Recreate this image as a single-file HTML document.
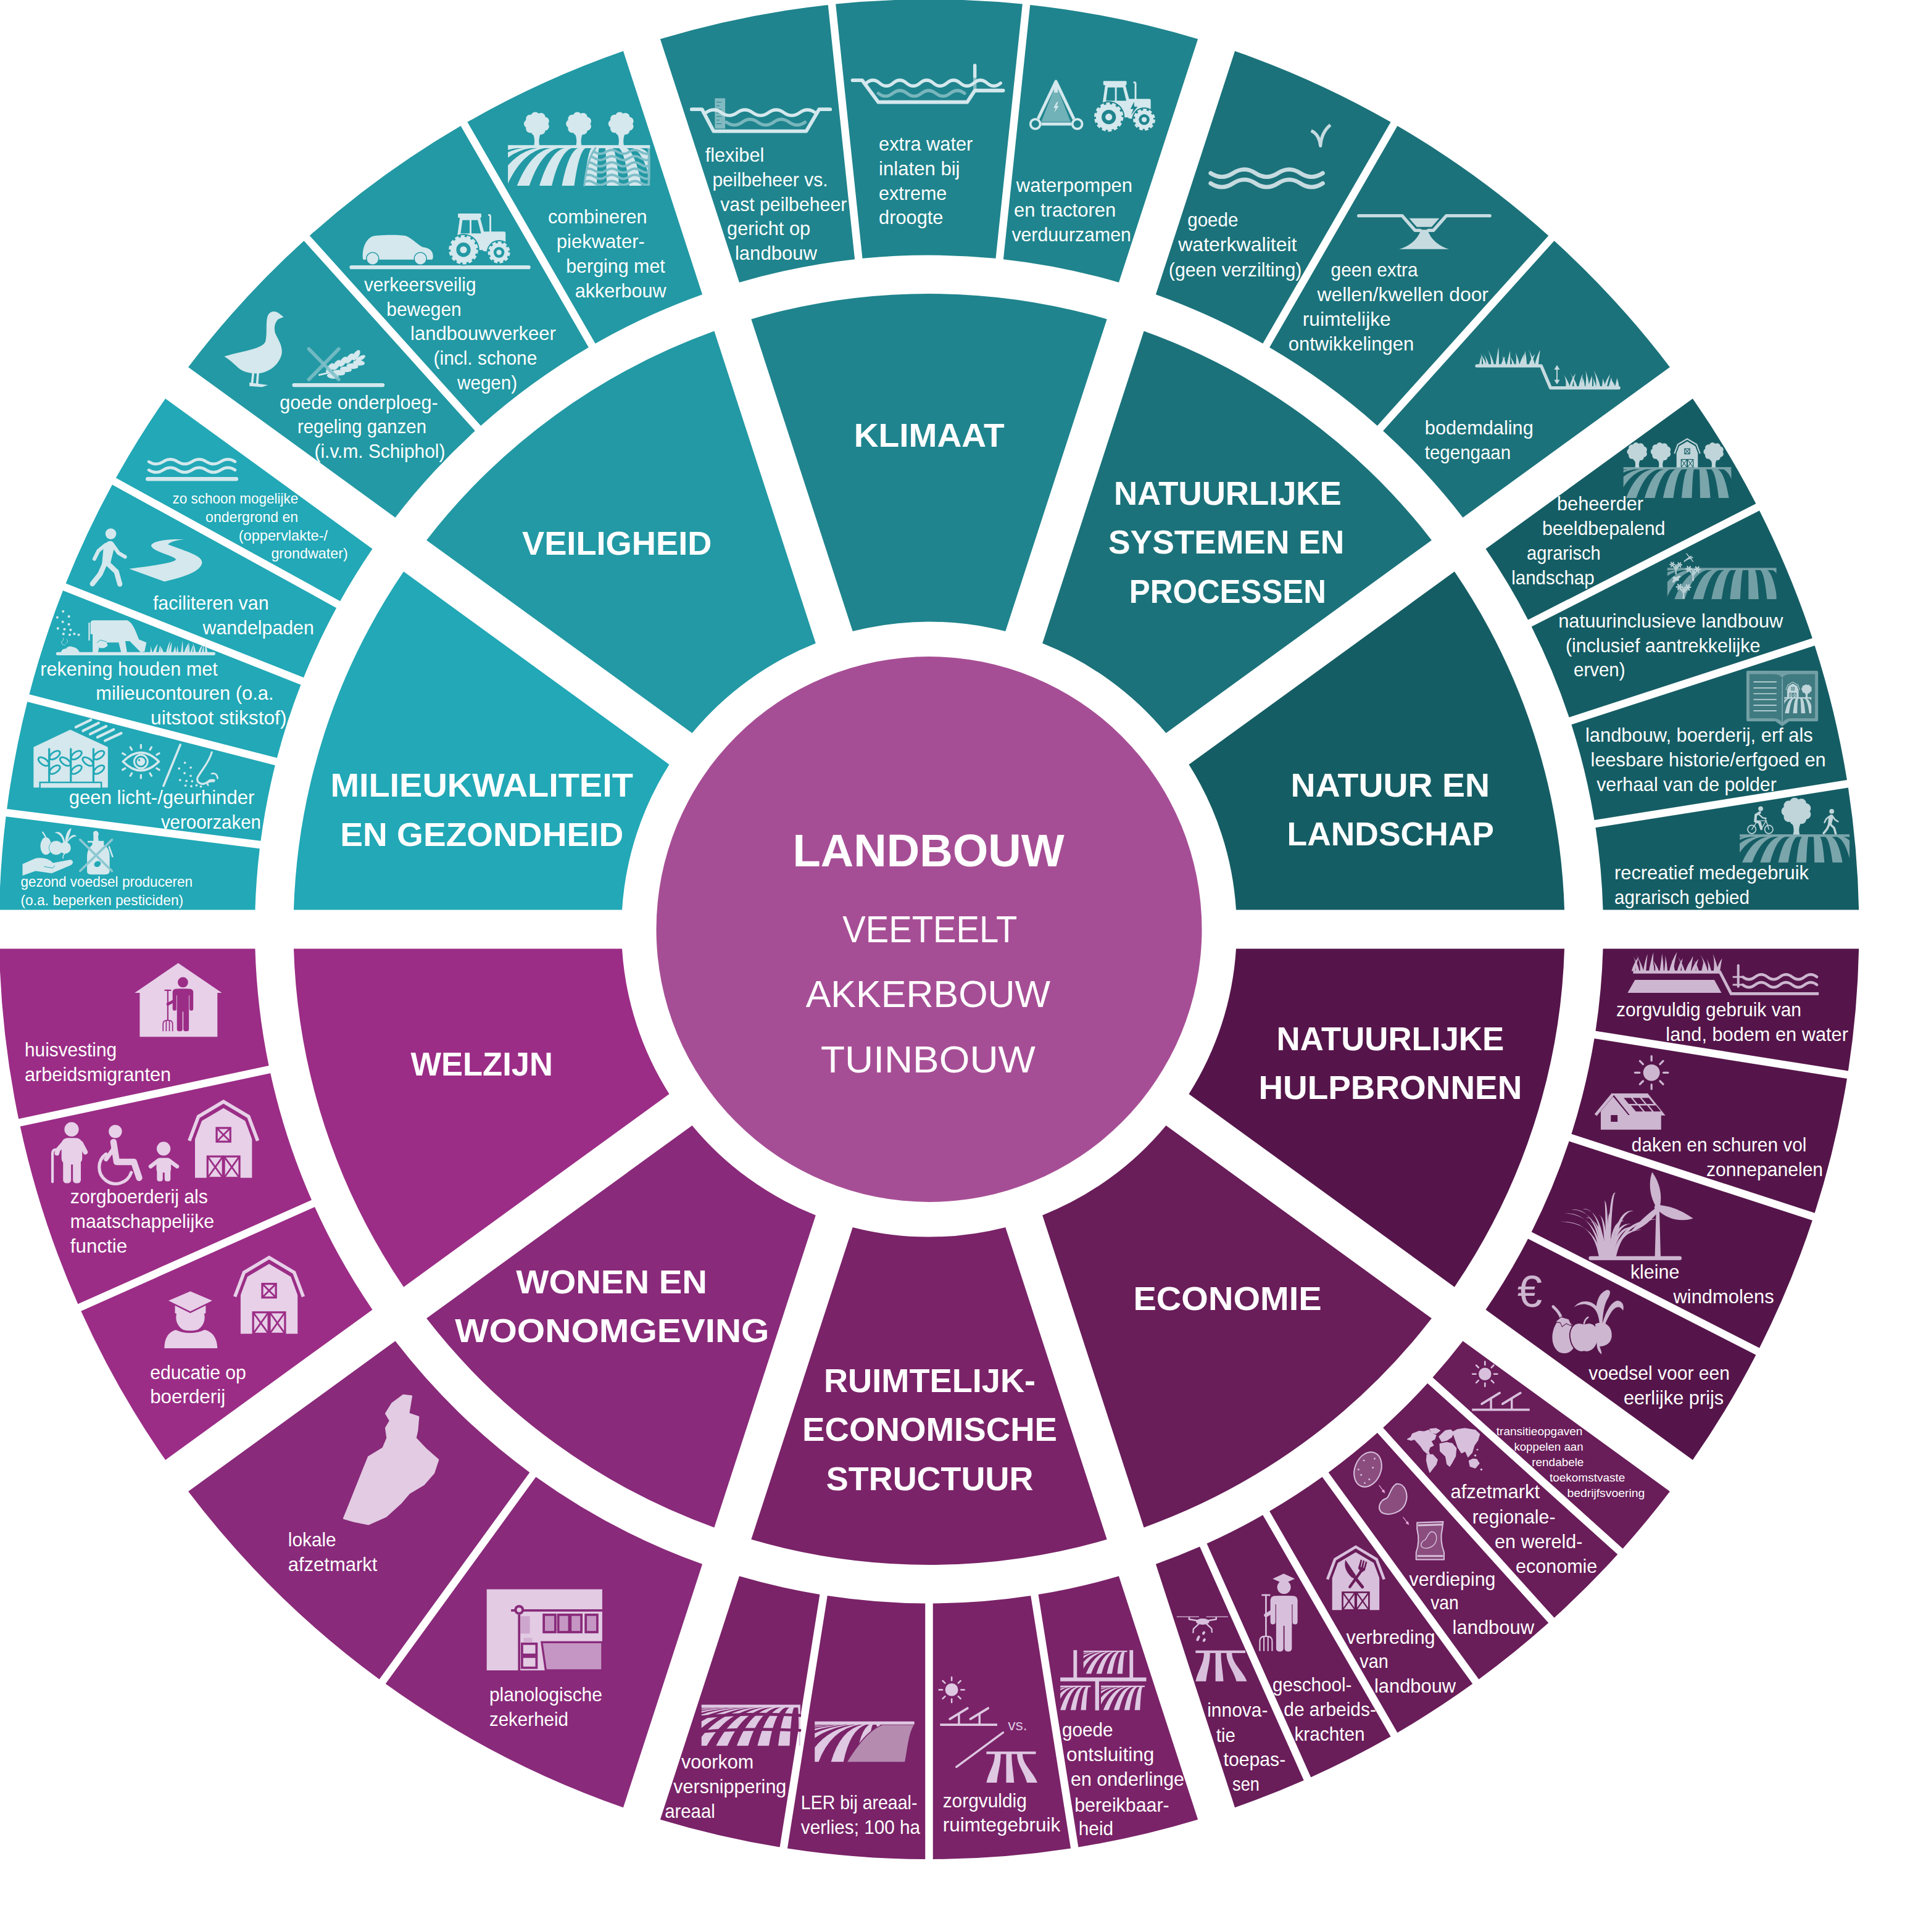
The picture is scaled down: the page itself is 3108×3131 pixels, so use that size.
<!DOCTYPE html>
<html><head><meta charset="utf-8"><style>
html,body{margin:0;padding:0;background:#fff;}
svg{display:block}
text{font-family:"Liberation Sans",sans-serif;fill:#fff}
.b{font-weight:bold}
</style></head><body>
<svg width="3108" height="3131" viewBox="0 0 3108 3131">
<rect width="3108" height="3131" fill="#fff"/>
<path d="M475.98 1474.50A1030 1030 0 0 1 654.09 926.35L1084.50 1239.06A498.5 498.5 0 0 0 1008.00 1474.50Z" fill="#22a8b6"/>
<path d="M-1.17 1474.50A1507 1507 0 0 1 9.61 1323.33L420.85 1375.28A1092.5 1092.5 0 0 0 413.45 1474.50Z" fill="#22a8b6"/>
<path d="M11.18 1310.92A1507 1507 0 0 1 44.30 1137.28L445.79 1240.36A1092.5 1092.5 0 0 0 422.42 1362.87Z" fill="#22a8b6"/>
<path d="M47.41 1125.17A1507 1507 0 0 1 102.04 957.05L487.44 1109.64A1092.5 1092.5 0 0 0 448.89 1228.26Z" fill="#22a8b6"/>
<path d="M106.64 945.43A1507 1507 0 0 1 181.91 785.48L545.14 985.17A1092.5 1092.5 0 0 0 492.04 1098.02Z" fill="#22a8b6"/>
<path d="M187.93 774.53A1507 1507 0 0 1 268.06 645.89L603.50 889.60A1092.5 1092.5 0 0 0 551.16 974.22Z" fill="#22a8b6"/>
<path d="M691.12 875.38A1030 1030 0 0 1 1157.40 536.60L1321.80 1042.58A498.5 498.5 0 0 0 1121.53 1188.09Z" fill="#2299a4"/>
<path d="M305.09 594.92A1507 1507 0 0 1 492.48 390.27L769.84 698.31A1092.5 1092.5 0 0 0 640.53 838.63Z" fill="#2299a4"/>
<path d="M501.77 381.91A1507 1507 0 0 1 746.59 204.04L953.85 563.01A1092.5 1092.5 0 0 0 779.13 689.95Z" fill="#2299a4"/>
<path d="M757.42 197.79A1507 1507 0 0 1 1009.95 82.81L1138.08 477.14A1092.5 1092.5 0 0 0 964.67 556.76Z" fill="#2299a4"/>
<path d="M1217.32 517.14A1030 1030 0 0 1 1793.68 517.14L1629.28 1023.11A498.5 498.5 0 0 0 1381.72 1023.11Z" fill="#1f848d"/>
<path d="M1069.87 63.34A1507 1507 0 0 1 1341.76 7.92L1385.09 420.16A1092.5 1092.5 0 0 0 1198.00 457.67Z" fill="#1f848d"/>
<path d="M1354.19 6.62A1507 1507 0 0 1 1656.81 6.62L1613.48 418.85A1092.5 1092.5 0 0 0 1397.52 418.85Z" fill="#1f848d"/>
<path d="M1669.24 7.92A1507 1507 0 0 1 1941.13 63.34L1813.00 457.67A1092.5 1092.5 0 0 0 1625.91 420.16Z" fill="#1f848d"/>
<path d="M1853.60 536.60A1030 1030 0 0 1 2319.88 875.38L1889.47 1188.09A498.5 498.5 0 0 0 1689.20 1042.58Z" fill="#1b727a"/>
<path d="M2001.05 82.81A1507 1507 0 0 1 2253.58 197.79L2046.33 556.76A1092.5 1092.5 0 0 0 1872.92 477.14Z" fill="#1b727a"/>
<path d="M2264.41 204.04A1507 1507 0 0 1 2509.23 381.91L2231.87 689.95A1092.5 1092.5 0 0 0 2057.15 563.01Z" fill="#1b727a"/>
<path d="M2518.52 390.27A1507 1507 0 0 1 2705.91 594.92L2370.47 838.63A1092.5 1092.5 0 0 0 2241.16 698.31Z" fill="#1b727a"/>
<path d="M2356.91 926.35A1030 1030 0 0 1 2535.02 1474.50L2003.00 1474.50A498.5 498.5 0 0 0 1926.50 1239.06Z" fill="#155d64"/>
<path d="M2742.94 645.89A1507 1507 0 0 1 2845.40 816.27L2476.07 1004.45A1092.5 1092.5 0 0 0 2407.50 889.60Z" fill="#155d64"/>
<path d="M2851.07 827.41A1507 1507 0 0 1 2936.80 1034.37L2542.58 1162.46A1092.5 1092.5 0 0 0 2481.75 1015.59Z" fill="#155d64"/>
<path d="M2940.66 1046.26A1507 1507 0 0 1 2992.96 1264.08L2583.55 1328.93A1092.5 1092.5 0 0 0 2546.44 1174.35Z" fill="#155d64"/>
<path d="M2994.91 1276.43A1507 1507 0 0 1 3012.17 1474.50L2597.55 1474.50A1092.5 1092.5 0 0 0 2585.51 1341.27Z" fill="#155d64"/>
<path d="M654.09 2085.65A1030 1030 0 0 1 475.98 1537.50L1008.00 1537.50A498.5 498.5 0 0 0 1084.50 1772.94Z" fill="#9b2d86"/>
<path d="M30.14 1813.21A1507 1507 0 0 1 -1.17 1537.50L413.45 1537.50A1092.5 1092.5 0 0 0 435.59 1727.03Z" fill="#9b2d86"/>
<path d="M126.26 2113.24A1507 1507 0 0 1 32.74 1825.43L438.19 1739.25A1092.5 1092.5 0 0 0 504.93 1944.64Z" fill="#9b2d86"/>
<path d="M268.06 2366.11A1507 1507 0 0 1 131.34 2124.66L510.01 1956.06A1092.5 1092.5 0 0 0 603.50 2122.40Z" fill="#9b2d86"/>
<path d="M1157.40 2475.40A1030 1030 0 0 1 691.12 2136.62L1121.53 1823.91A498.5 498.5 0 0 0 1321.80 1969.42Z" fill="#892a7a"/>
<path d="M614.66 2721.50A1507 1507 0 0 1 305.09 2417.08L640.53 2173.37A1092.5 1092.5 0 0 0 858.30 2386.16Z" fill="#892a7a"/>
<path d="M1009.95 2929.19A1507 1507 0 0 1 624.77 2728.85L868.41 2393.51A1092.5 1092.5 0 0 0 1138.08 2534.86Z" fill="#892a7a"/>
<path d="M1793.68 2494.86A1030 1030 0 0 1 1217.32 2494.86L1381.72 1988.89A498.5 498.5 0 0 0 1629.28 1988.89Z" fill="#7a2368"/>
<path d="M1263.58 2993.46A1507 1507 0 0 1 1069.87 2948.66L1198.00 2554.33A1092.5 1092.5 0 0 0 1328.43 2584.05Z" fill="#7a2368"/>
<path d="M1499.25 3012.99A1507 1507 0 0 1 1275.93 2995.41L1340.77 2586.01A1092.5 1092.5 0 0 0 1499.25 2598.48Z" fill="#7a2368"/>
<path d="M1735.07 2995.41A1507 1507 0 0 1 1511.75 3012.99L1511.75 2598.48A1092.5 1092.5 0 0 0 1670.23 2586.01Z" fill="#7a2368"/>
<path d="M1941.13 2948.66A1507 1507 0 0 1 1747.42 2993.46L1682.57 2584.05A1092.5 1092.5 0 0 0 1813.00 2554.33Z" fill="#7a2368"/>
<path d="M2319.88 2136.62A1030 1030 0 0 1 1853.60 2475.40L1689.20 1969.42A498.5 498.5 0 0 0 1889.47 1823.91Z" fill="#691d59"/>
<path d="M2112.74 2885.24A1507 1507 0 0 1 2001.05 2929.19L1872.92 2534.86A1092.5 1092.5 0 0 0 1944.14 2506.57Z" fill="#691d59"/>
<path d="M2253.58 2814.21A1507 1507 0 0 1 2124.16 2880.16L1955.56 2501.49A1092.5 1092.5 0 0 0 2046.33 2455.24Z" fill="#691d59"/>
<path d="M2386.23 2728.85A1507 1507 0 0 1 2264.41 2807.96L2057.15 2448.99A1092.5 1092.5 0 0 0 2142.59 2393.51Z" fill="#691d59"/>
<path d="M2509.23 2630.09A1507 1507 0 0 1 2396.34 2721.50L2152.70 2386.16A1092.5 1092.5 0 0 0 2231.87 2322.05Z" fill="#691d59"/>
<path d="M2621.23 2519.02A1507 1507 0 0 1 2518.52 2621.73L2241.16 2313.69A1092.5 1092.5 0 0 0 2313.19 2241.66Z" fill="#691d59"/>
<path d="M2705.91 2417.08A1507 1507 0 0 1 2629.59 2509.73L2321.55 2232.37A1092.5 1092.5 0 0 0 2370.47 2173.37Z" fill="#691d59"/>
<path d="M2535.02 1537.50A1030 1030 0 0 1 2356.91 2085.65L1926.50 1772.94A498.5 498.5 0 0 0 2003.00 1537.50Z" fill="#55154a"/>
<path d="M2845.40 2195.73A1507 1507 0 0 1 2742.94 2366.11L2407.50 2122.40A1092.5 1092.5 0 0 0 2476.07 2007.55Z" fill="#55154a"/>
<path d="M2936.80 1977.63A1507 1507 0 0 1 2851.07 2184.59L2481.75 1996.41A1092.5 1092.5 0 0 0 2542.58 1849.54Z" fill="#55154a"/>
<path d="M2992.96 1747.92A1507 1507 0 0 1 2940.66 1965.74L2546.44 1837.65A1092.5 1092.5 0 0 0 2583.55 1683.07Z" fill="#55154a"/>
<path d="M3012.17 1537.50A1507 1507 0 0 1 2994.91 1735.57L2585.51 1670.73A1092.5 1092.5 0 0 0 2597.55 1537.50Z" fill="#55154a"/>
<circle cx="1505.5" cy="1506" r="442" fill="#a64e95"/>
<g transform="translate(20,1130) scale(0.18769)"><line x1="548" y1="258" x2="678" y2="195" stroke="#d4e8ed" stroke-width="23" stroke-linecap="round" opacity="1"/><line x1="610" y1="290" x2="745" y2="222" stroke="#d4e8ed" stroke-width="23" stroke-linecap="round" opacity="1"/><line x1="672" y1="318" x2="810" y2="250" stroke="#d4e8ed" stroke-width="23" stroke-linecap="round" opacity="1"/><line x1="735" y1="345" x2="875" y2="278" stroke="#d4e8ed" stroke-width="23" stroke-linecap="round" opacity="1"/><line x1="800" y1="375" x2="940" y2="310" stroke="#d4e8ed" stroke-width="23" stroke-linecap="round" opacity="1"/><polygon points="183,780 183,430 500,280 825,430 825,780" fill="#d4e8ed" opacity="1"/><rect x="238" y="735" width="530" height="60" fill="#d4e8ed" stroke="#22a8b6" stroke-width="13"/><rect x="170" y="781" width="670" height="40" fill="#22a8b6" opacity="1" rx="0"/><line x1="318" y1="440" x2="318" y2="730" stroke="#22a8b6" stroke-width="17" stroke-linecap="butt" opacity="1"/><ellipse cx="270" cy="555" rx="52" ry="27" fill="none" stroke="#22a8b6" stroke-width="15" transform="rotate(35 270 555)"/><ellipse cx="366" cy="500" rx="52" ry="27" fill="none" stroke="#22a8b6" stroke-width="15" transform="rotate(-35 366 500)"/><ellipse cx="366" cy="625" rx="52" ry="27" fill="none" stroke="#22a8b6" stroke-width="15" transform="rotate(-35 366 625)"/><line x1="505" y1="440" x2="505" y2="730" stroke="#22a8b6" stroke-width="17" stroke-linecap="butt" opacity="1"/><ellipse cx="457" cy="555" rx="52" ry="27" fill="none" stroke="#22a8b6" stroke-width="15" transform="rotate(35 457 555)"/><ellipse cx="553" cy="500" rx="52" ry="27" fill="none" stroke="#22a8b6" stroke-width="15" transform="rotate(-35 553 500)"/><ellipse cx="553" cy="625" rx="52" ry="27" fill="none" stroke="#22a8b6" stroke-width="15" transform="rotate(-35 553 625)"/><line x1="700" y1="440" x2="700" y2="730" stroke="#22a8b6" stroke-width="17" stroke-linecap="butt" opacity="1"/><ellipse cx="652" cy="555" rx="52" ry="27" fill="none" stroke="#22a8b6" stroke-width="15" transform="rotate(35 652 555)"/><ellipse cx="748" cy="500" rx="52" ry="27" fill="none" stroke="#22a8b6" stroke-width="15" transform="rotate(-35 748 500)"/><ellipse cx="748" cy="625" rx="52" ry="27" fill="none" stroke="#22a8b6" stroke-width="15" transform="rotate(-35 748 625)"/><path d="M955 555 Q1110 400 1265 555 Q1110 710 955 555 Z" fill="none" stroke="#d4e8ed" stroke-width="19" stroke-linecap="round" stroke-linejoin="round" /><circle cx="1110" cy="555" r="58" fill="none" stroke="#d4e8ed" stroke-width="16"/><circle cx="1110" cy="555" r="36" fill="#d4e8ed" opacity="1"/><circle cx="1095" cy="542" r="9" fill="#22a8b6" opacity="1"/><line x1="980.096" y1="610" x2="945.455" y2="630" stroke="#d4e8ed" stroke-width="17" stroke-linecap="butt" opacity="1"/><line x1="980.096" y1="500" x2="945.455" y2="480" stroke="#d4e8ed" stroke-width="17" stroke-linecap="butt" opacity="1"/><line x1="1035" y1="650.263" x2="1015" y2="684.904" stroke="#d4e8ed" stroke-width="17" stroke-linecap="butt" opacity="1"/><line x1="1035" y1="459.737" x2="1015" y2="425.096" stroke="#d4e8ed" stroke-width="17" stroke-linecap="butt" opacity="1"/><line x1="1110" y1="665" x2="1110" y2="705" stroke="#d4e8ed" stroke-width="17" stroke-linecap="butt" opacity="1"/><line x1="1110" y1="445" x2="1110" y2="405" stroke="#d4e8ed" stroke-width="17" stroke-linecap="butt" opacity="1"/><line x1="1185" y1="650.263" x2="1205" y2="684.904" stroke="#d4e8ed" stroke-width="17" stroke-linecap="butt" opacity="1"/><line x1="1185" y1="459.737" x2="1205" y2="425.096" stroke="#d4e8ed" stroke-width="17" stroke-linecap="butt" opacity="1"/><line x1="1239.9" y1="610" x2="1274.54" y2="630" stroke="#d4e8ed" stroke-width="17" stroke-linecap="butt" opacity="1"/><line x1="1239.9" y1="500" x2="1274.54" y2="480" stroke="#d4e8ed" stroke-width="17" stroke-linecap="butt" opacity="1"/><line x1="1450" y1="410" x2="1305" y2="765" stroke="#d4e8ed" stroke-width="19" stroke-linecap="round" opacity="1"/><path d="M1722 475 C1700 560 1640 620 1600 690 C1585 730 1620 755 1660 745 C1690 735 1700 720 1740 725" fill="none" stroke="#d4e8ed" stroke-width="17" stroke-linecap="round" stroke-linejoin="round" /><path d="M1690 760 C1670 730 1700 705 1745 715" fill="none" stroke="#d4e8ed" stroke-width="14" stroke-linecap="round" stroke-linejoin="round" /><path d="M1720 660 C1750 650 1770 670 1772 700" fill="none" stroke="#d4e8ed" stroke-width="14" stroke-linecap="round" stroke-linejoin="round" /><circle cx="1490" cy="565" r="10" fill="#d4e8ed" opacity="1"/><circle cx="1540" cy="607" r="10" fill="#d4e8ed" opacity="1"/><circle cx="1440" cy="615" r="10" fill="#d4e8ed" opacity="1"/><circle cx="1487" cy="655" r="10" fill="#d4e8ed" opacity="1"/><circle cx="1540" cy="678" r="10" fill="#d4e8ed" opacity="1"/><circle cx="1448" cy="715" r="10" fill="#d4e8ed" opacity="1"/><circle cx="1503" cy="722" r="10" fill="#d4e8ed" opacity="1"/><circle cx="1552" cy="725" r="10" fill="#d4e8ed" opacity="1"/><circle cx="1495" cy="762" r="10" fill="#d4e8ed" opacity="1"/><circle cx="1545" cy="768" r="10" fill="#d4e8ed" opacity="1"/><circle cx="1590" cy="760" r="10" fill="#d4e8ed" opacity="1"/><circle cx="1628" cy="770" r="10" fill="#d4e8ed" opacity="1"/><path d="M88 1440 L200 1390 C260 1380 320 1395 350 1430 L500 1402 C530 1405 530 1440 500 1452 L340 1520 L200 1500 L88 1540 Z" fill="#d4e8ed" /><path d="M275 1462 L350 1475 L365 1455" fill="none" stroke="#22a8b6" stroke-width="5" stroke-linecap="round" stroke-linejoin="round" /><ellipse cx="290" cy="1285" rx="48" ry="75" fill="#d4e8ed"/><path d="M262 1165 C275 1185 285 1200 290 1215" fill="none" stroke="#d4e8ed" stroke-width="12" stroke-linecap="round" stroke-linejoin="round" /><circle cx="378" cy="1300" r="62" fill="#d4e8ed" opacity="1"/><circle cx="378" cy="1300" r="62" fill="none" stroke="#22a8b6" stroke-width="4"/><circle cx="455" cy="1300" r="50" fill="#d4e8ed" opacity="1"/><path d="M455 1345 C440 1365 430 1375 440 1390" fill="none" stroke="#d4e8ed" stroke-width="8" stroke-linecap="round" stroke-linejoin="round" /><path d="M440 1255 C430 1200 400 1175 365 1170 C400 1150 440 1170 455 1250 C460 1180 480 1140 510 1130 C500 1170 490 1200 470 1255 C490 1200 530 1170 555 1200 C520 1200 490 1230 470 1260 Z" fill="#d4e8ed" /><path d="M700 1185 C690 1160 720 1145 735 1160 C750 1170 745 1190 740 1200 L745 1240 L790 1240 L790 1275 C830 1300 840 1330 840 1380 L840 1500 C840 1525 820 1530 800 1530 L680 1530 C655 1530 645 1520 645 1500 L645 1380 C645 1330 660 1300 690 1275 L690 1255 L650 1255 L650 1240 L700 1240 Z" fill="#d4e8ed" /><line x1="835" y1="1290" x2="865" y2="1375" stroke="#d4e8ed" stroke-width="14" stroke-linecap="round" opacity="1"/><ellipse cx="735" cy="1440" rx="30" ry="24" fill="#22a8b6" transform="rotate(-30 735 1440)"/><line x1="585" y1="1230" x2="860" y2="1500" stroke="#8cc8d2" stroke-width="20" stroke-linecap="round" opacity="1"/><line x1="860" y1="1230" x2="585" y2="1500" stroke="#8cc8d2" stroke-width="20" stroke-linecap="round" opacity="1"/></g><g transform="translate(60,720) scale(0.18769)"><path d="M965.0 150.0Q1027.1 190.0 1089.2 150.0Q1151.2 110.0 1213.3 150.0Q1275.4 190.0 1337.5 150.0Q1399.6 110.0 1461.7 150.0Q1523.8 190.0 1585.8 150.0Q1647.9 110.0 1710.0 150.0" fill="none" stroke="#d4e8ed" stroke-width="25" stroke-linecap="round" opacity="1"/><path d="M965.0 222.0Q1027.1 262.0 1089.2 222.0Q1151.2 182.0 1213.3 222.0Q1275.4 262.0 1337.5 222.0Q1399.6 182.0 1461.7 222.0Q1523.8 262.0 1585.8 222.0Q1647.9 182.0 1710.0 222.0" fill="none" stroke="#d4e8ed" stroke-width="25" stroke-linecap="round" opacity="1"/><line x1="955" y1="300" x2="1720" y2="300" stroke="#d4e8ed" stroke-width="34" stroke-linecap="round" opacity="1"/><circle cx="637" cy="773" r="47" fill="#d4e8ed" opacity="1"/><path d="M575 880 Q600 830 640 835 Q680 850 665 900 L630 1040 L560 1040 Z" fill="#d4e8ed" /><path d="M590 870 L530 920 L495 990" fill="none" stroke="#d4e8ed" stroke-width="32" stroke-linecap="round" stroke-linejoin="round" /><path d="M655 870 L705 940 L760 972" fill="none" stroke="#d4e8ed" stroke-width="32" stroke-linecap="round" stroke-linejoin="round" /><path d="M600 1020 L685 1100 L715 1208" fill="none" stroke="#d4e8ed" stroke-width="44" stroke-linecap="round" stroke-linejoin="round" /><path d="M585 1030 L545 1120 L478 1205" fill="none" stroke="#d4e8ed" stroke-width="44" stroke-linecap="round" stroke-linejoin="round" /><path d="M795 1075 L1100 1185 C1250 1150 1420 1100 1425 1020 C1420 960 1300 930 1130 865 C1150 840 1220 825 1275 822 C1150 815 1000 830 985 875 C1000 930 1180 960 1200 995 C1180 1030 900 1060 795 1075 Z" fill="#d4e8ed" /><path d="M462 1640 L462 1545 Q462 1520 490 1520 L780 1520 C830 1545 850 1610 880 1685 L945 1712 L928 1790 L895 1795 L800 1700 L762 1700 L778 1805 L728 1805 L705 1712 L545 1712 L525 1805 L480 1805 L480 1640 Z" fill="#d4e8ed" /><line x1="450" y1="1545" x2="450" y2="1690" stroke="#d4e8ed" stroke-width="12" stroke-linecap="round" opacity="1"/><path d="M520 1712 L545 1690 L600 1705 L610 1740 L580 1760 L540 1760 Z" fill="#d4e8ed" /><path d="M520 1712 L545 1690 L600 1705" fill="none" stroke="#22a8b6" stroke-width="5" stroke-linecap="round" stroke-linejoin="round" /><line x1="178" y1="1808" x2="1525" y2="1808" stroke="#d4e8ed" stroke-width="28" stroke-linecap="round" opacity="1"/><path d="M976.8 1800.0Q982.9 1765.0 980.3 1741.7Q991.3 1770.9 994.7 1800.0Z" fill="#d4e8ed" opacity="1"/><path d="M1001.5 1800.0Q1017.4 1753.7 1043.2 1722.8Q1033.0 1761.4 1026.8 1800.0Z" fill="#d4e8ed" opacity="1"/><path d="M1049.3 1800.0Q1057.4 1760.5 1061.1 1734.2Q1067.3 1767.1 1068.6 1800.0Z" fill="#d4e8ed" opacity="1"/><path d="M1065.9 1800.0Q1073.6 1764.9 1064.2 1741.5Q1085.5 1770.8 1092.7 1800.0Z" fill="#d4e8ed" opacity="1"/><path d="M1114.1 1800.0Q1127.0 1738.3 1151.0 1697.2Q1138.9 1748.6 1132.4 1800.0Z" fill="#d4e8ed" opacity="1"/><path d="M1132.0 1800.0Q1146.2 1745.2 1164.1 1708.6Q1161.1 1754.3 1158.0 1800.0Z" fill="#d4e8ed" opacity="1"/><path d="M1175.4 1800.0Q1186.1 1765.7 1192.8 1742.8Q1198.5 1771.4 1199.3 1800.0Z" fill="#d4e8ed" opacity="1"/><path d="M1203.3 1800.0Q1209.8 1762.2 1210.3 1737.0Q1218.2 1768.5 1220.4 1800.0Z" fill="#d4e8ed" opacity="1"/><path d="M1241.7 1800.0Q1250.5 1736.1 1256.1 1693.5Q1260.7 1746.8 1261.3 1800.0Z" fill="#d4e8ed" opacity="1"/><path d="M1269.7 1800.0Q1286.1 1747.2 1312.8 1712.0Q1302.0 1756.0 1295.5 1800.0Z" fill="#d4e8ed" opacity="1"/><path d="M1296.0 1800.0Q1305.8 1753.2 1313.5 1722.1Q1317.1 1761.0 1317.1 1800.0Z" fill="#d4e8ed" opacity="1"/><path d="M1323.3 1800.0Q1333.9 1757.4 1351.5 1729.0Q1344.2 1764.5 1339.9 1800.0Z" fill="#d4e8ed" opacity="1"/><path d="M1349.8 1800.0Q1355.1 1745.2 1342.9 1708.6Q1364.4 1754.3 1372.1 1800.0Z" fill="#d4e8ed" opacity="1"/><path d="M1391.4 1800.0Q1405.3 1755.9 1433.4 1726.6Q1417.7 1763.3 1409.7 1800.0Z" fill="#d4e8ed" opacity="1"/><path d="M1421.4 1800.0Q1430.6 1761.3 1438.7 1735.4Q1441.0 1767.7 1440.6 1800.0Z" fill="#d4e8ed" opacity="1"/><path d="M1450.2 1800.0Q1456.0 1740.6 1445.5 1701.0Q1465.7 1750.5 1472.8 1800.0Z" fill="#d4e8ed" opacity="1"/><path d="M205 1800 Q215 1760 250 1765 Q270 1735 310 1750 Q350 1755 370 1800 Z" fill="#d4e8ed" /><path d="M240 1735 Q200 1725 215 1700 Q235 1690 225 1670" fill="none" stroke="#d4e8ed" stroke-width="5" stroke-linecap="round" stroke-linejoin="round" stroke-dasharray="7 6"/><path d="M250 1720 Q275 1700 255 1685" fill="none" stroke="#d4e8ed" stroke-width="5" stroke-linecap="round" stroke-linejoin="round" stroke-dasharray="7 6"/><circle cx="225" cy="1443" r="11" fill="#d4e8ed" opacity="1"/><circle cx="175" cy="1495" r="11" fill="#d4e8ed" opacity="1"/><circle cx="275" cy="1487" r="11" fill="#d4e8ed" opacity="1"/><circle cx="222" cy="1533" r="11" fill="#d4e8ed" opacity="1"/><circle cx="275" cy="1555" r="11" fill="#d4e8ed" opacity="1"/><circle cx="180" cy="1590" r="11" fill="#d4e8ed" opacity="1"/><circle cx="237" cy="1597" r="11" fill="#d4e8ed" opacity="1"/><circle cx="290" cy="1603" r="11" fill="#d4e8ed" opacity="1"/><circle cx="228" cy="1638" r="11" fill="#d4e8ed" opacity="1"/><circle cx="282" cy="1645" r="11" fill="#d4e8ed" opacity="1"/><circle cx="322" cy="1637" r="11" fill="#d4e8ed" opacity="1"/><circle cx="360" cy="1645" r="11" fill="#d4e8ed" opacity="1"/></g>
<g transform="translate(340,320) scale(0.28154)"><path d="M425 688 L395 665 C375 648 343 655 333 682 C320 720 332 780 320 830 C300 872 200 880 83 915 C110 932 130 950 150 968 C180 1002 230 1016 280 1013 C345 1005 400 960 414 900 C420 850 392 820 376 780 C366 742 380 712 396 700 Z" fill="#d4e8ed" /><line x1="250" y1="1008" x2="243" y2="1072" stroke="#d4e8ed" stroke-width="13" stroke-linecap="butt" opacity="1"/><line x1="277" y1="1010" x2="272" y2="1075" stroke="#d4e8ed" stroke-width="13" stroke-linecap="butt" opacity="1"/><polygon points="228,1066 262,1070 335,1080 300,1091 228,1086" fill="#d4e8ed" opacity="1"/><ellipse cx="692" cy="983" rx="34" ry="16" fill="#d4e8ed" transform="rotate(-55 692 983)"/><ellipse cx="708" cy="1027" rx="34" ry="16" fill="#d4e8ed" transform="rotate(5 708 1027)"/><ellipse cx="729.5" cy="964.25" rx="34" ry="16" fill="#d4e8ed" transform="rotate(-55 729.5 964.25)"/><ellipse cx="745.5" cy="1008.25" rx="34" ry="16" fill="#d4e8ed" transform="rotate(5 745.5 1008.25)"/><ellipse cx="767" cy="945.5" rx="34" ry="16" fill="#d4e8ed" transform="rotate(-55 767 945.5)"/><ellipse cx="783" cy="989.5" rx="34" ry="16" fill="#d4e8ed" transform="rotate(5 783 989.5)"/><ellipse cx="804.5" cy="926.75" rx="34" ry="16" fill="#d4e8ed" transform="rotate(-55 804.5 926.75)"/><ellipse cx="820.5" cy="970.75" rx="34" ry="16" fill="#d4e8ed" transform="rotate(5 820.5 970.75)"/><ellipse cx="842" cy="908" rx="34" ry="16" fill="#d4e8ed" transform="rotate(-55 842 908)"/><ellipse cx="858" cy="952" rx="34" ry="16" fill="#d4e8ed" transform="rotate(5 858 952)"/><ellipse cx="868" cy="925" rx="30" ry="12" fill="#d4e8ed" transform="rotate(-27 868 925)"/><line x1="630" y1="1022" x2="720" y2="1000" stroke="#d4e8ed" stroke-width="10" stroke-linecap="round" opacity="1"/><line x1="570" y1="872" x2="742" y2="1048" stroke="#7fc0c9" stroke-width="20" stroke-linecap="round" opacity="0.85"/><line x1="742" y1="872" x2="570" y2="1048" stroke="#7fc0c9" stroke-width="20" stroke-linecap="round" opacity="0.85"/><line x1="485" y1="1080" x2="995" y2="1080" stroke="#d4e8ed" stroke-width="22" stroke-linecap="round" opacity="1"/><path d="M880 345 C878 300 890 250 930 226 C960 213 1100 213 1130 222 C1170 240 1200 275 1225 286 C1272 292 1286 312 1285 345 L1280 358 L882 358 Z" fill="#d4e8ed" /><circle cx="937" cy="352" r="38" fill="#2299a4" opacity="1"/><circle cx="937" cy="352" r="33" fill="#d4e8ed" opacity="1"/><circle cx="1212" cy="352" r="38" fill="#2299a4" opacity="1"/><circle cx="1212" cy="352" r="33" fill="#d4e8ed" opacity="1"/><line x1="815" y1="402" x2="1835" y2="402" stroke="#d4e8ed" stroke-width="22" stroke-linecap="round" opacity="1"/><rect x="1428.12" y="92.75" width="134.55" height="24.15" fill="#d4e8ed" opacity="1" rx="5.175"/><path d="M1440.2 110 L1554.05 110 L1578.2 199.7 L1578.2 303.2 L1412.6 303.2 Z" fill="#d4e8ed" /><path d="M1454 130.7 L1495.4 130.7 L1495.4 206.6 L1443.65 206.6 Z" fill="#2299a4" /><path d="M1505.75 130.7 L1541.97 130.7 L1560.95 206.6 L1505.75 206.6 Z" fill="#2299a4" /><rect x="1571.3" y="196.25" width="131.1" height="113.85" fill="#d4e8ed" opacity="1" rx="8.625"/><rect x="1609.25" y="103.1" width="10.35" height="96.6" fill="#d4e8ed" opacity="1" rx="0"/><rect x="1602.35" y="96.2" width="13.8" height="10.35" fill="#d4e8ed" opacity="1" rx="0"/><circle cx="1459.87" cy="301.13" r="91.425" fill="#2299a4" opacity="1"/><circle cx="1459.87" cy="301.13" r="77.28" fill="none" stroke="#d4e8ed" stroke-width="14.49" stroke-dasharray="21.5036 13.1796"/><circle cx="1459.87" cy="301.13" r="74.52" fill="#d4e8ed" opacity="1"/><circle cx="1459.87" cy="301.13" r="41.4" fill="#2299a4" opacity="1"/><circle cx="1459.87" cy="301.13" r="19.872" fill="#d4e8ed" opacity="1"/><circle cx="1664.45" cy="315.965" r="70.725" fill="#2299a4" opacity="1"/><circle cx="1664.45" cy="315.965" r="56.58" fill="none" stroke="#d4e8ed" stroke-width="14.49" stroke-dasharray="20.0374 12.281"/><circle cx="1664.45" cy="315.965" r="53.82" fill="#d4e8ed" opacity="1"/><circle cx="1664.45" cy="315.965" r="31.05" fill="#2299a4" opacity="1"/><circle cx="1664.45" cy="315.965" r="14.904" fill="#d4e8ed" opacity="1"/></g><g transform="translate(800,160) scale(0.14599)"><circle cx="478" cy="278" r="112" fill="#d4e8ed" opacity="1"/><circle cx="567.428" cy="306.803" r="47.6" fill="#d4e8ed" opacity="1"/><circle cx="525.523" cy="350.785" r="47.6" fill="#d4e8ed" opacity="1"/><circle cx="461.381" cy="360.71" r="47.6" fill="#d4e8ed" opacity="1"/><circle cx="405.015" cy="331.934" r="47.6" fill="#d4e8ed" opacity="1"/><circle cx="382.8" cy="277.922" r="47.6" fill="#d4e8ed" opacity="1"/><circle cx="405.13" cy="223.946" r="47.6" fill="#d4e8ed" opacity="1"/><circle cx="461.556" cy="195.263" r="47.6" fill="#d4e8ed" opacity="1"/><circle cx="525.677" cy="205.293" r="47.6" fill="#d4e8ed" opacity="1"/><circle cx="567.489" cy="249.344" r="47.6" fill="#d4e8ed" opacity="1"/><path d="M423.4 369 C457 418 457 485 446.5 520 L509.5 520 C499 485 499 418 532.6 369 Z" fill="#d4e8ed" /><circle cx="945" cy="278" r="112" fill="#d4e8ed" opacity="1"/><circle cx="1034.43" cy="306.803" r="47.6" fill="#d4e8ed" opacity="1"/><circle cx="992.523" cy="350.785" r="47.6" fill="#d4e8ed" opacity="1"/><circle cx="928.381" cy="360.71" r="47.6" fill="#d4e8ed" opacity="1"/><circle cx="872.015" cy="331.934" r="47.6" fill="#d4e8ed" opacity="1"/><circle cx="849.8" cy="277.922" r="47.6" fill="#d4e8ed" opacity="1"/><circle cx="872.13" cy="223.946" r="47.6" fill="#d4e8ed" opacity="1"/><circle cx="928.556" cy="195.263" r="47.6" fill="#d4e8ed" opacity="1"/><circle cx="992.677" cy="205.293" r="47.6" fill="#d4e8ed" opacity="1"/><circle cx="1034.49" cy="249.344" r="47.6" fill="#d4e8ed" opacity="1"/><path d="M890.4 369 C924 418 924 485 913.5 520 L976.5 520 C966 485 966 418 999.6 369 Z" fill="#d4e8ed" /><circle cx="1415" cy="278" r="112" fill="#d4e8ed" opacity="1"/><circle cx="1504.43" cy="306.803" r="47.6" fill="#d4e8ed" opacity="1"/><circle cx="1462.52" cy="350.785" r="47.6" fill="#d4e8ed" opacity="1"/><circle cx="1398.38" cy="360.71" r="47.6" fill="#d4e8ed" opacity="1"/><circle cx="1342.02" cy="331.934" r="47.6" fill="#d4e8ed" opacity="1"/><circle cx="1319.8" cy="277.922" r="47.6" fill="#d4e8ed" opacity="1"/><circle cx="1342.13" cy="223.946" r="47.6" fill="#d4e8ed" opacity="1"/><circle cx="1398.56" cy="195.263" r="47.6" fill="#d4e8ed" opacity="1"/><circle cx="1462.68" cy="205.293" r="47.6" fill="#d4e8ed" opacity="1"/><circle cx="1504.49" cy="249.344" r="47.6" fill="#d4e8ed" opacity="1"/><path d="M1360.4 369 C1394 418 1394 485 1383.5 520 L1446.5 520 C1436 485 1436 418 1469.6 369 Z" fill="#d4e8ed" /><clipPath id="fc1"><rect x="158" y="531.875" width="1577" height="433.125"/></clipPath><rect x="158" y="515" width="1577" height="33.75" fill="#d4e8ed" opacity="1" rx="0"/><g clip-path="url(#fc1)" opacity="1"><path d="M-560.1 547.1Q-1265.0 588.9 -1735.0 966.0L-1597.9 966.0Q-1149.8 588.9 -477.7 547.1Z" fill="#d4e8ed"/><path d="M-410.3 547.1Q-1055.6 588.9 -1485.8 966.0L-1348.7 966.0Q-940.4 588.9 -327.9 547.1Z" fill="#d4e8ed"/><path d="M-260.5 547.1Q-846.2 588.9 -1236.6 966.0L-1099.6 966.0Q-731.0 588.9 -178.1 547.1Z" fill="#d4e8ed"/><path d="M-110.7 547.1Q-636.7 588.9 -987.5 966.0L-850.4 966.0Q-521.6 588.9 -28.3 547.1Z" fill="#d4e8ed"/><path d="M39.1 547.1Q-427.3 588.9 -738.3 966.0L-601.2 966.0Q-312.1 588.9 121.5 547.1Z" fill="#d4e8ed"/><path d="M188.9 547.1Q-217.9 588.9 -489.1 966.0L-352.1 966.0Q-102.7 588.9 271.3 547.1Z" fill="#d4e8ed"/><path d="M338.8 547.1Q-8.5 588.9 -240.0 966.0L-102.9 966.0Q106.7 588.9 421.2 547.1Z" fill="#d4e8ed"/><path d="M488.6 547.1Q201.0 588.9 9.2 966.0L146.3 966.0Q316.1 588.9 571.0 547.1Z" fill="#d4e8ed"/><path d="M638.4 547.1Q410.4 588.9 258.4 966.0L395.4 966.0Q525.6 588.9 720.8 547.1Z" fill="#d4e8ed"/><path d="M788.2 547.1Q619.8 588.9 507.5 966.0L644.6 966.0Q735.0 588.9 870.6 547.1Z" fill="#d4e8ed"/><path d="M938.0 547.1Q829.2 588.9 756.7 966.0L893.7 966.0Q944.4 588.9 1020.4 547.1Z" fill="#d4e8ed"/><path d="M1087.8 547.1Q1038.7 588.9 1005.9 966.0L1142.9 966.0Q1153.8 588.9 1170.2 547.1Z" fill="#d4e8ed"/><path d="M1237.7 547.1Q1248.1 588.9 1255.0 966.0L1392.1 966.0Q1363.3 588.9 1320.1 547.1Z" fill="#d4e8ed"/><path d="M1387.5 547.1Q1457.5 588.9 1504.2 966.0L1641.2 966.0Q1572.7 588.9 1469.9 547.1Z" fill="#d4e8ed"/><path d="M1537.3 547.1Q1666.9 588.9 1753.4 966.0L1890.4 966.0Q1782.1 588.9 1619.7 547.1Z" fill="#d4e8ed"/><path d="M1687.1 547.1Q1876.4 588.9 2002.5 966.0L2139.6 966.0Q1991.5 588.9 1769.5 547.1Z" fill="#d4e8ed"/><path d="M1836.9 547.1Q2085.8 588.9 2251.7 966.0L2388.7 966.0Q2201.0 588.9 1919.3 547.1Z" fill="#d4e8ed"/><path d="M1986.7 547.1Q2295.2 588.9 2500.9 966.0L2637.9 966.0Q2410.4 588.9 2069.1 547.1Z" fill="#d4e8ed"/><path d="M2136.5 547.1Q2504.6 588.9 2750.0 966.0L2887.1 966.0Q2619.8 588.9 2218.9 547.1Z" fill="#d4e8ed"/><path d="M2286.4 547.1Q2714.1 588.9 2999.2 966.0L3136.2 966.0Q2829.2 588.9 2368.8 547.1Z" fill="#d4e8ed"/><path d="M2436.2 547.1Q2923.5 588.9 3248.4 966.0L3385.4 966.0Q3038.7 588.9 2518.6 547.1Z" fill="#d4e8ed"/><path d="M2586.0 547.1Q3132.9 588.9 3497.5 966.0L3634.6 966.0Q3248.1 588.9 2668.4 547.1Z" fill="#d4e8ed"/><path d="M2735.8 547.1Q3342.3 588.9 3746.7 966.0L3883.7 966.0Q3457.5 588.9 2818.2 547.1Z" fill="#d4e8ed"/><path d="M2885.6 547.1Q3551.8 588.9 3995.9 966.0L4132.9 966.0Q3667.0 588.9 2968.0 547.1Z" fill="#d4e8ed"/><path d="M3035.4 547.1Q3761.2 588.9 4245.0 966.0L4382.1 966.0Q3876.4 588.9 3117.8 547.1Z" fill="#d4e8ed"/></g><clipPath id="cw1"><path d="M1130 548 C1060 640 1020 800 1005 965 L1735 965 L1735 548 Z"/></clipPath><g clip-path="url(#cw1)"><path d="M990.0 590.0Q1054.2 546.0 1118.3 590.0Q1182.5 634.0 1246.7 590.0Q1310.8 546.0 1375.0 590.0Q1439.2 634.0 1503.3 590.0Q1567.5 546.0 1631.7 590.0Q1695.8 634.0 1760.0 590.0" fill="none" stroke="#7dbec8" stroke-width="27" stroke-linecap="round" opacity="1"/><path d="M990.0 659.0Q1054.2 615.0 1118.3 659.0Q1182.5 703.0 1246.7 659.0Q1310.8 615.0 1375.0 659.0Q1439.2 703.0 1503.3 659.0Q1567.5 615.0 1631.7 659.0Q1695.8 703.0 1760.0 659.0" fill="none" stroke="#7dbec8" stroke-width="27" stroke-linecap="round" opacity="1"/><path d="M990.0 728.0Q1054.2 684.0 1118.3 728.0Q1182.5 772.0 1246.7 728.0Q1310.8 684.0 1375.0 728.0Q1439.2 772.0 1503.3 728.0Q1567.5 684.0 1631.7 728.0Q1695.8 772.0 1760.0 728.0" fill="none" stroke="#7dbec8" stroke-width="27" stroke-linecap="round" opacity="1"/><path d="M990.0 797.0Q1054.2 753.0 1118.3 797.0Q1182.5 841.0 1246.7 797.0Q1310.8 753.0 1375.0 797.0Q1439.2 841.0 1503.3 797.0Q1567.5 753.0 1631.7 797.0Q1695.8 841.0 1760.0 797.0" fill="none" stroke="#7dbec8" stroke-width="27" stroke-linecap="round" opacity="1"/><path d="M990.0 866.0Q1054.2 822.0 1118.3 866.0Q1182.5 910.0 1246.7 866.0Q1310.8 822.0 1375.0 866.0Q1439.2 910.0 1503.3 866.0Q1567.5 822.0 1631.7 866.0Q1695.8 910.0 1760.0 866.0" fill="none" stroke="#7dbec8" stroke-width="27" stroke-linecap="round" opacity="1"/><path d="M990.0 935.0Q1054.2 891.0 1118.3 935.0Q1182.5 979.0 1246.7 935.0Q1310.8 891.0 1375.0 935.0Q1439.2 979.0 1503.3 935.0Q1567.5 891.0 1631.7 935.0Q1695.8 979.0 1760.0 935.0" fill="none" stroke="#7dbec8" stroke-width="27" stroke-linecap="round" opacity="1"/></g><path d="M1130 548 C1060 640 1020 800 1005 965" fill="none" stroke="#7dbec8" stroke-width="20" stroke-linecap="round" stroke-linejoin="round" /><line x1="1722" y1="548" x2="1722" y2="965" stroke="#7dbec8" stroke-width="24" stroke-linecap="butt" opacity="1"/></g><g transform="translate(1100,80) scale(0.41710)"><rect x="140" y="190" width="40" height="118" fill="#d4e8ed" opacity="0.55" rx="0"/><line x1="146" y1="205" x2="166" y2="205" stroke="#1f848d" stroke-width="2.5" stroke-linecap="butt" opacity="1"/><line x1="146" y1="219" x2="158" y2="219" stroke="#1f848d" stroke-width="2.5" stroke-linecap="butt" opacity="1"/><line x1="146" y1="233" x2="166" y2="233" stroke="#1f848d" stroke-width="2.5" stroke-linecap="butt" opacity="1"/><line x1="146" y1="247" x2="158" y2="247" stroke="#1f848d" stroke-width="2.5" stroke-linecap="butt" opacity="1"/><line x1="146" y1="261" x2="166" y2="261" stroke="#1f848d" stroke-width="2.5" stroke-linecap="butt" opacity="1"/><line x1="146" y1="275" x2="158" y2="275" stroke="#1f848d" stroke-width="2.5" stroke-linecap="butt" opacity="1"/><line x1="146" y1="289" x2="166" y2="289" stroke="#1f848d" stroke-width="2.5" stroke-linecap="butt" opacity="1"/><path d="M50 233 L90 233 L135 318 L495 318 L545 233 L588 233" fill="none" stroke="#d4e8ed" stroke-width="14" stroke-linecap="round" stroke-linejoin="round" /><path d="M105.0 246.0Q135.4 224.0 165.7 246.0Q196.1 268.0 226.4 246.0Q256.8 224.0 287.1 246.0Q317.5 268.0 347.9 246.0Q378.2 224.0 408.6 246.0Q438.9 268.0 469.3 246.0Q499.6 224.0 530.0 246.0" fill="none" stroke="#d4e8ed" stroke-width="12.5" stroke-linecap="round" opacity="1"/><path d="M185.0 283.0Q215.5 305.0 246.0 283.0Q276.5 261.0 307.0 283.0Q337.5 305.0 368.0 283.0Q398.5 261.0 429.0 283.0Q459.5 305.0 490.0 283.0" fill="none" stroke="#d4e8ed" stroke-width="12.5" stroke-linecap="round" opacity="0.5"/><path d="M675 120 L712 120 L775 205 L1120 205 L1150 160 L1260 160" fill="none" stroke="#d4e8ed" stroke-width="14" stroke-linecap="round" stroke-linejoin="round" /><path d="M728.0 131.0Q754.1 109.0 780.2 131.0Q806.3 153.0 832.4 131.0Q858.5 109.0 884.6 131.0Q910.7 153.0 936.8 131.0Q962.9 109.0 989.0 131.0Q1015.1 153.0 1041.2 131.0Q1067.3 109.0 1093.4 131.0Q1119.5 153.0 1145.6 131.0Q1171.7 109.0 1197.8 131.0Q1223.9 153.0 1250.0 131.0" fill="none" stroke="#d4e8ed" stroke-width="12.5" stroke-linecap="round" opacity="1"/><path d="M775.0 171.0Q802.9 193.0 830.8 171.0Q858.8 149.0 886.7 171.0Q914.6 193.0 942.5 171.0Q970.4 149.0 998.3 171.0Q1026.2 193.0 1054.2 171.0Q1082.1 149.0 1110.0 171.0" fill="none" stroke="#d4e8ed" stroke-width="12.5" stroke-linecap="round" opacity="0.5"/><line x1="1150" y1="62" x2="1150" y2="105" stroke="#d4e8ed" stroke-width="13" stroke-linecap="round" opacity="1"/><line x1="1150" y1="105" x2="1150" y2="155" stroke="#d4e8ed" stroke-width="13" stroke-linecap="butt" opacity="0.55"/><polygon points="1465,135 1408,282 1522,282" fill="#d4e8ed" opacity="0.45"/><path d="M1465 125 L1385 292 M1465 125 L1545 292 M1385 290 L1545 290" fill="none" stroke="#d4e8ed" stroke-width="12" stroke-linecap="round" stroke-linejoin="round" /><circle cx="1385" cy="290" r="24" fill="#1f848d" opacity="1"/><circle cx="1385" cy="290" r="19" fill="none" stroke="#d4e8ed" stroke-width="9"/><circle cx="1548" cy="290" r="24" fill="#1f848d" opacity="1"/><circle cx="1548" cy="290" r="19" fill="none" stroke="#d4e8ed" stroke-width="9"/><rect x="1458" y="128" width="14" height="40" fill="#d4e8ed" opacity="1" rx="0"/><path d="M1468 205 L1456 228 L1464 228 L1458 246 L1476 220 L1467 220 L1474 205 Z" fill="#d4e8ed" /><rect x="1649" y="122.8" width="90.48" height="16.24" fill="#d4e8ed" opacity="1" rx="3.48"/><path d="M1657.12 134.4 L1733.68 134.4 L1749.92 194.72 L1749.92 264.32 L1638.56 264.32 Z" fill="#d4e8ed" /><path d="M1666.4 148.32 L1694.24 148.32 L1694.24 199.36 L1659.44 199.36 Z" fill="#1f848d" /><path d="M1701.2 148.32 L1725.56 148.32 L1738.32 199.36 L1701.2 199.36 Z" fill="#1f848d" /><rect x="1745.28" y="192.4" width="88.16" height="76.56" fill="#d4e8ed" opacity="1" rx="5.8"/><rect x="1770.8" y="129.76" width="6.96" height="64.96" fill="#d4e8ed" opacity="1" rx="0"/><rect x="1766.16" y="125.12" width="9.28" height="6.96" fill="#d4e8ed" opacity="1" rx="0"/><circle cx="1670.34" cy="262.928" r="61.48" fill="#1f848d" opacity="1"/><circle cx="1670.34" cy="262.928" r="51.968" fill="none" stroke="#d4e8ed" stroke-width="9.744" stroke-dasharray="14.4604 8.86281"/><circle cx="1670.34" cy="262.928" r="50.112" fill="#d4e8ed" opacity="1"/><circle cx="1670.34" cy="262.928" r="27.84" fill="#1f848d" opacity="1"/><circle cx="1670.34" cy="262.928" r="13.3632" fill="#d4e8ed" opacity="1"/><circle cx="1807.92" cy="272.904" r="47.56" fill="#1f848d" opacity="1"/><circle cx="1807.92" cy="272.904" r="38.048" fill="none" stroke="#d4e8ed" stroke-width="9.744" stroke-dasharray="13.4744 8.25853"/><circle cx="1807.92" cy="272.904" r="36.192" fill="#d4e8ed" opacity="1"/><circle cx="1807.92" cy="272.904" r="20.88" fill="#1f848d" opacity="1"/><circle cx="1807.92" cy="272.904" r="10.0224" fill="#d4e8ed" opacity="1"/><path d="M1768.48 204 L1754.56 231.84 L1766.16 231.84 L1756.88 255.04 L1782.4 222.56 L1769.64 222.56 Z" fill="#1f848d" /></g>
<g transform="translate(1940,180) scale(0.37539)"><path d="M492 85 C515 95 528 115 532 150 C535 110 550 80 575 60" fill="none" stroke="#c6dbe0" stroke-width="14" stroke-linejoin="round" stroke-linecap="butt"/><path d="M58.0 268.0Q106.4 300.0 154.8 268.0Q203.2 236.0 251.6 268.0Q300.0 300.0 348.4 268.0Q396.8 236.0 445.2 268.0Q493.6 300.0 542.0 268.0" fill="none" stroke="#c6dbe0" stroke-width="18" stroke-linecap="round" opacity="1"/><path d="M58.0 312.0Q106.4 344.0 154.8 312.0Q203.2 280.0 251.6 312.0Q300.0 344.0 348.4 312.0Q396.8 280.0 445.2 312.0Q493.6 344.0 542.0 312.0" fill="none" stroke="#c6dbe0" stroke-width="18" stroke-linecap="round" opacity="1"/><path d="M697 452 L885 452 L940 515 L962 515" fill="none" stroke="#c6dbe0" stroke-width="14" stroke-linecap="round" stroke-linejoin="round" /><path d="M1263 452 L1075 452 L1020 515 L998 515" fill="none" stroke="#c6dbe0" stroke-width="14" stroke-linecap="round" stroke-linejoin="round" /><polygon points="915,463 1045,463 1012,500 948,500" fill="#c6dbe0" opacity="1"/><path d="M966 512 L994 512 C1010 560 1050 585 1088 596 L872 596 C910 585 950 560 966 512 Z" fill="#c6dbe0" /><path d="M1207 1100 L1485 1100 L1525 1195 L1820 1195" fill="none" stroke="#c6dbe0" stroke-width="14" stroke-linecap="round" stroke-linejoin="round" stroke-linejoin="miter"/><path d="M1215.9 1098.0Q1221.9 1071.8 1227.9 1054.3Q1228.5 1076.1 1228.0 1098.0Z" fill="#c6dbe0" opacity="1"/><path d="M1233.9 1098.0Q1235.9 1066.0 1220.4 1044.6Q1241.6 1071.3 1249.5 1098.0Z" fill="#c6dbe0" opacity="1"/><path d="M1247.9 1098.0Q1248.4 1064.1 1232.1 1041.5Q1252.3 1069.8 1260.1 1098.0Z" fill="#c6dbe0" opacity="1"/><path d="M1268.9 1098.0Q1269.2 1053.5 1250.5 1023.8Q1273.4 1060.9 1282.2 1098.0Z" fill="#c6dbe0" opacity="1"/><path d="M1287.9 1098.0Q1294.9 1050.2 1300.8 1018.4Q1302.8 1058.2 1302.6 1098.0Z" fill="#c6dbe0" opacity="1"/><path d="M1309.5 1098.0Q1317.6 1074.6 1329.0 1059.0Q1325.8 1078.5 1323.4 1098.0Z" fill="#c6dbe0" opacity="1"/><path d="M1316.1 1098.0Q1322.0 1072.7 1317.9 1055.8Q1330.3 1076.9 1334.3 1098.0Z" fill="#c6dbe0" opacity="1"/><path d="M1335.9 1098.0Q1343.3 1060.1 1351.0 1034.9Q1351.3 1066.4 1350.4 1098.0Z" fill="#c6dbe0" opacity="1"/><path d="M1358.0 1098.0Q1360.1 1074.2 1348.8 1058.3Q1365.1 1078.1 1371.1 1098.0Z" fill="#c6dbe0" opacity="1"/><path d="M1375.3 1098.0Q1380.0 1064.3 1374.1 1041.8Q1387.2 1069.9 1391.6 1098.0Z" fill="#c6dbe0" opacity="1"/><path d="M1390.0 1098.0Q1399.6 1067.7 1412.0 1047.6Q1409.5 1072.8 1407.2 1098.0Z" fill="#c6dbe0" opacity="1"/><path d="M1404.6 1098.0Q1412.4 1060.3 1415.4 1035.2Q1421.8 1066.6 1423.3 1098.0Z" fill="#c6dbe0" opacity="1"/><path d="M1430.4 1098.0Q1439.6 1068.1 1458.1 1048.1Q1448.0 1073.1 1442.8 1098.0Z" fill="#c6dbe0" opacity="1"/><path d="M1443.1 1098.0Q1444.8 1055.4 1428.6 1027.0Q1450.4 1062.5 1458.6 1098.0Z" fill="#c6dbe0" opacity="1"/><path d="M1456.3 1098.0Q1466.0 1057.8 1480.3 1031.0Q1475.6 1064.5 1472.5 1098.0Z" fill="#c6dbe0" opacity="1"/><path d="M1590.7 1192.0Q1594.6 1159.8 1582.5 1138.3Q1602.1 1165.1 1609.2 1192.0Z" fill="#c6dbe0" opacity="1"/><path d="M1606.0 1192.0Q1615.1 1156.3 1633.4 1132.4Q1623.3 1162.2 1618.1 1192.0Z" fill="#c6dbe0" opacity="1"/><path d="M1626.9 1192.0Q1627.3 1153.2 1607.4 1127.3Q1632.0 1159.6 1641.4 1192.0Z" fill="#c6dbe0" opacity="1"/><path d="M1645.9 1192.0Q1653.3 1157.6 1663.9 1134.7Q1660.9 1163.4 1658.7 1192.0Z" fill="#c6dbe0" opacity="1"/><path d="M1654.7 1192.0Q1662.4 1166.9 1664.5 1150.1Q1672.0 1171.0 1673.8 1192.0Z" fill="#c6dbe0" opacity="1"/><path d="M1675.6 1192.0Q1681.2 1148.9 1676.9 1120.2Q1689.2 1156.1 1693.2 1192.0Z" fill="#c6dbe0" opacity="1"/><path d="M1687.5 1192.0Q1696.0 1162.0 1704.0 1142.0Q1705.5 1167.0 1704.9 1192.0Z" fill="#c6dbe0" opacity="1"/><path d="M1709.4 1192.0Q1713.0 1167.5 1707.5 1151.1Q1718.7 1171.6 1722.6 1192.0Z" fill="#c6dbe0" opacity="1"/><path d="M1721.9 1192.0Q1725.4 1148.0 1711.4 1118.6Q1732.8 1155.3 1740.7 1192.0Z" fill="#c6dbe0" opacity="1"/><path d="M1746.1 1192.0Q1751.5 1168.4 1749.6 1152.6Q1758.8 1172.3 1761.7 1192.0Z" fill="#c6dbe0" opacity="1"/><path d="M1755.8 1192.0Q1764.9 1158.4 1782.5 1135.9Q1773.1 1164.0 1768.2 1192.0Z" fill="#c6dbe0" opacity="1"/><path d="M1774.9 1192.0Q1783.1 1166.6 1787.4 1149.6Q1792.8 1170.8 1793.8 1192.0Z" fill="#c6dbe0" opacity="1"/><path d="M1789.1 1192.0Q1792.7 1169.6 1783.1 1154.7Q1799.2 1173.4 1805.0 1192.0Z" fill="#c6dbe0" opacity="1"/><path d="M1802.3 1192.0Q1809.9 1167.6 1811.7 1151.3Q1819.4 1171.6 1821.4 1192.0Z" fill="#c6dbe0" opacity="1"/><line x1="1553" y1="1108" x2="1553" y2="1168" stroke="#c6dbe0" stroke-width="5" stroke-linecap="round" opacity="1"/><polygon points="1553,1096 1541,1116 1565,1116" fill="#c6dbe0" opacity="1"/><polygon points="1553,1180 1541,1160 1565,1160" fill="#c6dbe0" opacity="1"/></g><g transform="translate(2600,680) scale(0.21898)"><circle cx="242" cy="238" r="59.2" fill="#bfd5da" opacity="1"/><circle cx="289.269" cy="253.225" r="25.16" fill="#bfd5da" opacity="1"/><circle cx="267.119" cy="276.472" r="25.16" fill="#bfd5da" opacity="1"/><circle cx="233.216" cy="281.718" r="25.16" fill="#bfd5da" opacity="1"/><circle cx="203.422" cy="266.508" r="25.16" fill="#bfd5da" opacity="1"/><circle cx="191.68" cy="237.959" r="25.16" fill="#bfd5da" opacity="1"/><circle cx="203.483" cy="209.428" r="25.16" fill="#bfd5da" opacity="1"/><circle cx="233.308" cy="194.267" r="25.16" fill="#bfd5da" opacity="1"/><circle cx="267.201" cy="199.569" r="25.16" fill="#bfd5da" opacity="1"/><circle cx="289.301" cy="222.853" r="25.16" fill="#bfd5da" opacity="1"/><path d="M213.14 286.1 C230.9 312 230.9 335.5 225.35 354 L258.65 354 C253.1 335.5 253.1 312 270.86 286.1 Z" fill="#bfd5da" /><circle cx="417" cy="238" r="59.2" fill="#bfd5da" opacity="1"/><circle cx="464.269" cy="253.225" r="25.16" fill="#bfd5da" opacity="1"/><circle cx="442.119" cy="276.472" r="25.16" fill="#bfd5da" opacity="1"/><circle cx="408.216" cy="281.718" r="25.16" fill="#bfd5da" opacity="1"/><circle cx="378.422" cy="266.508" r="25.16" fill="#bfd5da" opacity="1"/><circle cx="366.68" cy="237.959" r="25.16" fill="#bfd5da" opacity="1"/><circle cx="378.483" cy="209.428" r="25.16" fill="#bfd5da" opacity="1"/><circle cx="408.308" cy="194.267" r="25.16" fill="#bfd5da" opacity="1"/><circle cx="442.201" cy="199.569" r="25.16" fill="#bfd5da" opacity="1"/><circle cx="464.301" cy="222.853" r="25.16" fill="#bfd5da" opacity="1"/><path d="M388.14 286.1 C405.9 312 405.9 335.5 400.35 354 L433.65 354 C428.1 335.5 428.1 312 445.86 286.1 Z" fill="#bfd5da" /><circle cx="808" cy="238" r="59.2" fill="#bfd5da" opacity="1"/><circle cx="855.269" cy="253.225" r="25.16" fill="#bfd5da" opacity="1"/><circle cx="833.119" cy="276.472" r="25.16" fill="#bfd5da" opacity="1"/><circle cx="799.216" cy="281.718" r="25.16" fill="#bfd5da" opacity="1"/><circle cx="769.422" cy="266.508" r="25.16" fill="#bfd5da" opacity="1"/><circle cx="757.68" cy="237.959" r="25.16" fill="#bfd5da" opacity="1"/><circle cx="769.483" cy="209.428" r="25.16" fill="#bfd5da" opacity="1"/><circle cx="799.308" cy="194.267" r="25.16" fill="#bfd5da" opacity="1"/><circle cx="833.201" cy="199.569" r="25.16" fill="#bfd5da" opacity="1"/><circle cx="855.301" cy="222.853" r="25.16" fill="#bfd5da" opacity="1"/><path d="M779.14 286.1 C796.9 312 796.9 335.5 791.35 354 L824.65 354 C819.1 335.5 819.1 312 836.86 286.1 Z" fill="#bfd5da" /><polygon points="533,354 533,245.375 551.96,196 612,160.45 672.04,196 691,245.375 691,354" fill="#bfd5da" opacity="1"/><path d="M517.2 251.3 L542.48 184.15 L612 142.675 L681.52 184.15 L706.8 251.3" fill="none" stroke="#bfd5da" stroke-width="9.48" stroke-linecap="butt" stroke-linejoin="miter"/><path d="M529.84 247.35 L548.8 193.038 L612 156.5 L675.2 193.038 L694.16 247.35" fill="none" stroke="#155d64" stroke-width="5.53" stroke-linecap="butt" stroke-linejoin="round" /><rect x="593.04" y="215.75" width="37.92" height="37.92" fill="none" stroke="#155d64" stroke-width="5.53"/><line x1="593.04" y1="215.75" x2="630.96" y2="253.67" stroke="#155d64" stroke-width="4.74" stroke-linecap="butt" opacity="1"/><line x1="630.96" y1="215.75" x2="593.04" y2="253.67" stroke="#155d64" stroke-width="4.74" stroke-linecap="butt" opacity="1"/><rect x="567.76" y="294.75" width="42.66" height="59.25" fill="none" stroke="#155d64" stroke-width="5.53"/><line x1="567.76" y1="294.75" x2="610.42" y2="354" stroke="#155d64" stroke-width="4.74" stroke-linecap="butt" opacity="1"/><line x1="610.42" y1="294.75" x2="567.76" y2="354" stroke="#155d64" stroke-width="4.74" stroke-linecap="butt" opacity="1"/><rect x="613.58" y="294.75" width="42.66" height="59.25" fill="none" stroke="#155d64" stroke-width="5.53"/><line x1="613.58" y1="294.75" x2="656.24" y2="354" stroke="#155d64" stroke-width="4.74" stroke-linecap="butt" opacity="1"/><line x1="656.24" y1="294.75" x2="613.58" y2="354" stroke="#155d64" stroke-width="4.74" stroke-linecap="butt" opacity="1"/><clipPath id="fc2"><rect x="140" y="359.98" width="798" height="220.02"/></clipPath><rect x="140" y="352" width="798" height="15.96" fill="#bfd5da" opacity="0.6" rx="0"/><g clip-path="url(#fc2)" opacity="0.6"><path d="M-351.8 367.2Q-704.3 388.4 -939.3 581.0L-863.8 581.0Q-639.7 388.4 -303.5 367.2Z" fill="#bfd5da"/><path d="M-264.0 367.2Q-586.8 388.4 -802.0 581.0L-726.5 581.0Q-522.2 388.4 -215.7 367.2Z" fill="#bfd5da"/><path d="M-176.2 367.2Q-469.4 388.4 -664.8 581.0L-589.3 581.0Q-404.7 388.4 -127.9 367.2Z" fill="#bfd5da"/><path d="M-88.4 367.2Q-351.9 388.4 -527.5 581.0L-452.0 581.0Q-287.3 388.4 -40.1 367.2Z" fill="#bfd5da"/><path d="M-0.6 367.2Q-234.4 388.4 -390.3 581.0L-314.8 581.0Q-169.8 388.4 47.6 367.2Z" fill="#bfd5da"/><path d="M87.1 367.2Q-117.0 388.4 -253.0 581.0L-177.5 581.0Q-52.3 388.4 135.4 367.2Z" fill="#bfd5da"/><path d="M174.9 367.2Q0.5 388.4 -115.8 581.0L-40.3 581.0Q65.1 388.4 223.2 367.2Z" fill="#bfd5da"/><path d="M262.7 367.2Q118.0 388.4 21.5 581.0L97.0 581.0Q182.6 388.4 311.0 367.2Z" fill="#bfd5da"/><path d="M350.5 367.2Q235.4 388.4 158.8 581.0L234.2 581.0Q300.0 388.4 398.8 367.2Z" fill="#bfd5da"/><path d="M438.3 367.2Q352.9 388.4 296.0 581.0L371.5 581.0Q417.5 388.4 486.5 367.2Z" fill="#bfd5da"/><path d="M526.0 367.2Q470.4 388.4 433.3 581.0L508.8 581.0Q535.0 388.4 574.3 367.2Z" fill="#bfd5da"/><path d="M613.8 367.2Q587.8 388.4 570.5 581.0L646.0 581.0Q652.4 388.4 662.1 367.2Z" fill="#bfd5da"/><path d="M701.6 367.2Q705.3 388.4 707.8 581.0L783.3 581.0Q769.9 388.4 749.9 367.2Z" fill="#bfd5da"/><path d="M789.4 367.2Q822.8 388.4 845.0 581.0L920.5 581.0Q887.4 388.4 837.7 367.2Z" fill="#bfd5da"/><path d="M877.2 367.2Q940.2 388.4 982.3 581.0L1057.8 581.0Q1004.8 388.4 925.4 367.2Z" fill="#bfd5da"/><path d="M964.9 367.2Q1057.7 388.4 1119.5 581.0L1195.0 581.0Q1122.3 388.4 1013.2 367.2Z" fill="#bfd5da"/><path d="M1052.7 367.2Q1175.2 388.4 1256.8 581.0L1332.3 581.0Q1239.8 388.4 1101.0 367.2Z" fill="#bfd5da"/><path d="M1140.5 367.2Q1292.6 388.4 1394.1 581.0L1469.5 581.0Q1357.2 388.4 1188.8 367.2Z" fill="#bfd5da"/><path d="M1228.3 367.2Q1410.1 388.4 1531.3 581.0L1606.8 581.0Q1474.7 388.4 1276.6 367.2Z" fill="#bfd5da"/><path d="M1316.1 367.2Q1527.6 388.4 1668.6 581.0L1744.1 581.0Q1592.2 388.4 1364.3 367.2Z" fill="#bfd5da"/><path d="M1403.8 367.2Q1645.0 388.4 1805.8 581.0L1881.3 581.0Q1709.6 388.4 1452.1 367.2Z" fill="#bfd5da"/><path d="M1491.6 367.2Q1762.5 388.4 1943.1 581.0L2018.6 581.0Q1827.1 388.4 1539.9 367.2Z" fill="#bfd5da"/><path d="M1579.4 367.2Q1880.0 388.4 2080.3 581.0L2155.8 581.0Q1944.6 388.4 1627.7 367.2Z" fill="#bfd5da"/><path d="M1667.2 367.2Q1997.4 388.4 2217.6 581.0L2293.1 581.0Q2062.0 388.4 1715.5 367.2Z" fill="#bfd5da"/><path d="M1755.0 367.2Q2114.9 388.4 2354.8 581.0L2430.3 581.0Q2179.5 388.4 1803.2 367.2Z" fill="#bfd5da"/></g><clipPath id="fc3"><rect x="465" y="1105.7" width="807" height="223.3"/></clipPath><rect x="465" y="1097" width="807" height="17.4" fill="#bfd5da" opacity="0.55" rx="0"/><g clip-path="url(#fc3)" opacity="0.55"><path d="M-0.8 1113.5Q-348.7 1135.1 -580.7 1330.0L-505.2 1330.0Q-283.9 1135.1 48.0 1113.5Z" fill="#bfd5da"/><path d="M87.9 1113.5Q-230.9 1135.1 -443.5 1330.0L-368.0 1330.0Q-166.1 1135.1 136.8 1113.5Z" fill="#bfd5da"/><path d="M176.7 1113.5Q-113.1 1135.1 -306.3 1330.0L-230.8 1330.0Q-48.3 1135.1 225.5 1113.5Z" fill="#bfd5da"/><path d="M265.5 1113.5Q4.7 1135.1 -169.1 1330.0L-93.6 1330.0Q69.5 1135.1 314.3 1113.5Z" fill="#bfd5da"/><path d="M354.2 1113.5Q122.5 1135.1 -31.9 1330.0L43.5 1330.0Q187.4 1135.1 403.1 1113.5Z" fill="#bfd5da"/><path d="M443.0 1113.5Q240.4 1135.1 105.3 1330.0L180.7 1330.0Q305.2 1135.1 491.8 1113.5Z" fill="#bfd5da"/><path d="M531.8 1113.5Q358.2 1135.1 242.5 1330.0L317.9 1330.0Q423.0 1135.1 580.6 1113.5Z" fill="#bfd5da"/><path d="M620.5 1113.5Q476.0 1135.1 379.7 1330.0L455.1 1330.0Q540.8 1135.1 669.4 1113.5Z" fill="#bfd5da"/><path d="M709.3 1113.5Q593.8 1135.1 516.8 1330.0L592.3 1330.0Q658.6 1135.1 758.1 1113.5Z" fill="#bfd5da"/><path d="M798.1 1113.5Q711.7 1135.1 654.0 1330.0L729.5 1330.0Q776.5 1135.1 846.9 1113.5Z" fill="#bfd5da"/><path d="M886.9 1113.5Q829.5 1135.1 791.2 1330.0L866.7 1330.0Q894.3 1135.1 935.7 1113.5Z" fill="#bfd5da"/><path d="M975.6 1113.5Q947.3 1135.1 928.4 1330.0L1003.9 1330.0Q1012.1 1135.1 1024.5 1113.5Z" fill="#bfd5da"/><path d="M1064.4 1113.5Q1065.1 1135.1 1065.6 1330.0L1141.1 1330.0Q1129.9 1135.1 1113.2 1113.5Z" fill="#bfd5da"/><path d="M1153.2 1113.5Q1182.9 1135.1 1202.8 1330.0L1278.3 1330.0Q1247.7 1135.1 1202.0 1113.5Z" fill="#bfd5da"/><path d="M1241.9 1113.5Q1300.8 1135.1 1340.0 1330.0L1415.4 1330.0Q1365.6 1135.1 1290.8 1113.5Z" fill="#bfd5da"/><path d="M1330.7 1113.5Q1418.6 1135.1 1477.2 1330.0L1552.6 1330.0Q1483.4 1135.1 1379.5 1113.5Z" fill="#bfd5da"/><path d="M1419.5 1113.5Q1536.4 1135.1 1614.4 1330.0L1689.8 1330.0Q1601.2 1135.1 1468.3 1113.5Z" fill="#bfd5da"/><path d="M1508.2 1113.5Q1654.2 1135.1 1751.6 1330.0L1827.0 1330.0Q1719.0 1135.1 1557.1 1113.5Z" fill="#bfd5da"/><path d="M1597.0 1113.5Q1772.1 1135.1 1888.7 1330.0L1964.2 1330.0Q1836.9 1135.1 1645.8 1113.5Z" fill="#bfd5da"/><path d="M1685.8 1113.5Q1889.9 1135.1 2025.9 1330.0L2101.4 1330.0Q1954.7 1135.1 1734.6 1113.5Z" fill="#bfd5da"/><path d="M1774.6 1113.5Q2007.7 1135.1 2163.1 1330.0L2238.6 1330.0Q2072.5 1135.1 1823.4 1113.5Z" fill="#bfd5da"/><path d="M1863.3 1113.5Q2125.5 1135.1 2300.3 1330.0L2375.8 1330.0Q2190.3 1135.1 1912.2 1113.5Z" fill="#bfd5da"/><path d="M1952.1 1113.5Q2243.3 1135.1 2437.5 1330.0L2513.0 1330.0Q2308.1 1135.1 2000.9 1113.5Z" fill="#bfd5da"/><path d="M2040.9 1113.5Q2361.2 1135.1 2574.7 1330.0L2650.2 1330.0Q2426.0 1135.1 2089.7 1113.5Z" fill="#bfd5da"/><path d="M2129.6 1113.5Q2479.0 1135.1 2711.9 1330.0L2787.3 1330.0Q2543.8 1135.1 2178.5 1113.5Z" fill="#bfd5da"/></g><path d="M522.8 1145 L525.92 1098.2 L530.08 1098.2 L534.24 1145 Z" fill="#bfd5da" /><path d="M528 1113.8 L504.6 1080" fill="none" stroke="#bfd5da" stroke-width="4.68" stroke-linecap="round" stroke-linejoin="round" /><path d="M528 1113.8 L551.4 1082.6" fill="none" stroke="#bfd5da" stroke-width="4.68" stroke-linecap="round" stroke-linejoin="round" /><ellipse cx="514.012" cy="1072.2" rx="10.92" ry="4.8048" fill="#bfd5da" transform="rotate(0 514.012 1072.2)"/><ellipse cx="508.006" cy="1082.6" rx="10.92" ry="4.8048" fill="#bfd5da" transform="rotate(60 508.006 1082.6)"/><ellipse cx="495.994" cy="1082.6" rx="10.92" ry="4.8048" fill="#bfd5da" transform="rotate(120 495.994 1082.6)"/><ellipse cx="489.988" cy="1072.2" rx="10.92" ry="4.8048" fill="#bfd5da" transform="rotate(180 489.988 1072.2)"/><ellipse cx="495.994" cy="1061.8" rx="10.92" ry="4.8048" fill="#bfd5da" transform="rotate(240 495.994 1061.8)"/><ellipse cx="508.006" cy="1061.8" rx="10.92" ry="4.8048" fill="#bfd5da" transform="rotate(300 508.006 1061.8)"/><ellipse cx="566.012" cy="1074.8" rx="10.92" ry="4.8048" fill="#bfd5da" transform="rotate(0 566.012 1074.8)"/><ellipse cx="560.006" cy="1085.2" rx="10.92" ry="4.8048" fill="#bfd5da" transform="rotate(60 560.006 1085.2)"/><ellipse cx="547.994" cy="1085.2" rx="10.92" ry="4.8048" fill="#bfd5da" transform="rotate(120 547.994 1085.2)"/><ellipse cx="541.988" cy="1074.8" rx="10.92" ry="4.8048" fill="#bfd5da" transform="rotate(180 541.988 1074.8)"/><ellipse cx="547.994" cy="1064.4" rx="10.92" ry="4.8048" fill="#bfd5da" transform="rotate(240 547.994 1064.4)"/><ellipse cx="560.006" cy="1064.4" rx="10.92" ry="4.8048" fill="#bfd5da" transform="rotate(300 560.006 1064.4)"/><ellipse cx="540.896" cy="1090.4" rx="9.36" ry="4.1184" fill="#bfd5da" transform="rotate(0 540.896 1090.4)"/><ellipse cx="535.748" cy="1099.32" rx="9.36" ry="4.1184" fill="#bfd5da" transform="rotate(60 535.748 1099.32)"/><ellipse cx="525.452" cy="1099.32" rx="9.36" ry="4.1184" fill="#bfd5da" transform="rotate(120 525.452 1099.32)"/><ellipse cx="520.304" cy="1090.4" rx="9.36" ry="4.1184" fill="#bfd5da" transform="rotate(180 520.304 1090.4)"/><ellipse cx="525.452" cy="1081.48" rx="9.36" ry="4.1184" fill="#bfd5da" transform="rotate(240 525.452 1081.48)"/><ellipse cx="535.748" cy="1081.48" rx="9.36" ry="4.1184" fill="#bfd5da" transform="rotate(300 535.748 1081.48)"/><path d="M648.8 1193 L652.52 1137.2 L657.48 1137.2 L662.44 1193 Z" fill="#bfd5da" /><path d="M655 1155.8 L627.1 1115.5" fill="none" stroke="#bfd5da" stroke-width="5.58" stroke-linecap="round" stroke-linejoin="round" /><path d="M655 1155.8 L682.9 1118.6" fill="none" stroke="#bfd5da" stroke-width="5.58" stroke-linecap="round" stroke-linejoin="round" /><ellipse cx="638.322" cy="1106.2" rx="13.02" ry="5.7288" fill="#bfd5da" transform="rotate(0 638.322 1106.2)"/><ellipse cx="631.161" cy="1118.6" rx="13.02" ry="5.7288" fill="#bfd5da" transform="rotate(60 631.161 1118.6)"/><ellipse cx="616.839" cy="1118.6" rx="13.02" ry="5.7288" fill="#bfd5da" transform="rotate(120 616.839 1118.6)"/><ellipse cx="609.678" cy="1106.2" rx="13.02" ry="5.7288" fill="#bfd5da" transform="rotate(180 609.678 1106.2)"/><ellipse cx="616.839" cy="1093.8" rx="13.02" ry="5.7288" fill="#bfd5da" transform="rotate(240 616.839 1093.8)"/><ellipse cx="631.161" cy="1093.8" rx="13.02" ry="5.7288" fill="#bfd5da" transform="rotate(300 631.161 1093.8)"/><ellipse cx="700.322" cy="1109.3" rx="13.02" ry="5.7288" fill="#bfd5da" transform="rotate(0 700.322 1109.3)"/><ellipse cx="693.161" cy="1121.7" rx="13.02" ry="5.7288" fill="#bfd5da" transform="rotate(60 693.161 1121.7)"/><ellipse cx="678.839" cy="1121.7" rx="13.02" ry="5.7288" fill="#bfd5da" transform="rotate(120 678.839 1121.7)"/><ellipse cx="671.678" cy="1109.3" rx="13.02" ry="5.7288" fill="#bfd5da" transform="rotate(180 671.678 1109.3)"/><ellipse cx="678.839" cy="1096.9" rx="13.02" ry="5.7288" fill="#bfd5da" transform="rotate(240 678.839 1096.9)"/><ellipse cx="693.161" cy="1096.9" rx="13.02" ry="5.7288" fill="#bfd5da" transform="rotate(300 693.161 1096.9)"/><ellipse cx="670.376" cy="1127.9" rx="11.16" ry="4.9104" fill="#bfd5da" transform="rotate(0 670.376 1127.9)"/><ellipse cx="664.238" cy="1138.53" rx="11.16" ry="4.9104" fill="#bfd5da" transform="rotate(60 664.238 1138.53)"/><ellipse cx="651.962" cy="1138.53" rx="11.16" ry="4.9104" fill="#bfd5da" transform="rotate(120 651.962 1138.53)"/><ellipse cx="645.824" cy="1127.9" rx="11.16" ry="4.9104" fill="#bfd5da" transform="rotate(180 645.824 1127.9)"/><ellipse cx="651.962" cy="1117.27" rx="11.16" ry="4.9104" fill="#bfd5da" transform="rotate(240 651.962 1117.27)"/><ellipse cx="664.238" cy="1117.27" rx="11.16" ry="4.9104" fill="#bfd5da" transform="rotate(300 664.238 1117.27)"/><path d="M578.8 1325 L582.52 1269.2 L587.48 1269.2 L592.44 1325 Z" fill="#bfd5da" /><path d="M585 1287.8 L557.1 1247.5" fill="none" stroke="#bfd5da" stroke-width="5.58" stroke-linecap="round" stroke-linejoin="round" /><path d="M585 1287.8 L612.9 1250.6" fill="none" stroke="#bfd5da" stroke-width="5.58" stroke-linecap="round" stroke-linejoin="round" /><ellipse cx="568.322" cy="1238.2" rx="13.02" ry="5.7288" fill="#bfd5da" transform="rotate(0 568.322 1238.2)"/><ellipse cx="561.161" cy="1250.6" rx="13.02" ry="5.7288" fill="#bfd5da" transform="rotate(60 561.161 1250.6)"/><ellipse cx="546.839" cy="1250.6" rx="13.02" ry="5.7288" fill="#bfd5da" transform="rotate(120 546.839 1250.6)"/><ellipse cx="539.678" cy="1238.2" rx="13.02" ry="5.7288" fill="#bfd5da" transform="rotate(180 539.678 1238.2)"/><ellipse cx="546.839" cy="1225.8" rx="13.02" ry="5.7288" fill="#bfd5da" transform="rotate(240 546.839 1225.8)"/><ellipse cx="561.161" cy="1225.8" rx="13.02" ry="5.7288" fill="#bfd5da" transform="rotate(300 561.161 1225.8)"/><ellipse cx="630.322" cy="1241.3" rx="13.02" ry="5.7288" fill="#bfd5da" transform="rotate(0 630.322 1241.3)"/><ellipse cx="623.161" cy="1253.7" rx="13.02" ry="5.7288" fill="#bfd5da" transform="rotate(60 623.161 1253.7)"/><ellipse cx="608.839" cy="1253.7" rx="13.02" ry="5.7288" fill="#bfd5da" transform="rotate(120 608.839 1253.7)"/><ellipse cx="601.678" cy="1241.3" rx="13.02" ry="5.7288" fill="#bfd5da" transform="rotate(180 601.678 1241.3)"/><ellipse cx="608.839" cy="1228.9" rx="13.02" ry="5.7288" fill="#bfd5da" transform="rotate(240 608.839 1228.9)"/><ellipse cx="623.161" cy="1228.9" rx="13.02" ry="5.7288" fill="#bfd5da" transform="rotate(300 623.161 1228.9)"/><ellipse cx="600.376" cy="1259.9" rx="11.16" ry="4.9104" fill="#bfd5da" transform="rotate(0 600.376 1259.9)"/><ellipse cx="594.238" cy="1270.53" rx="11.16" ry="4.9104" fill="#bfd5da" transform="rotate(60 594.238 1270.53)"/><ellipse cx="581.962" cy="1270.53" rx="11.16" ry="4.9104" fill="#bfd5da" transform="rotate(120 581.962 1270.53)"/><ellipse cx="575.824" cy="1259.9" rx="11.16" ry="4.9104" fill="#bfd5da" transform="rotate(180 575.824 1259.9)"/><ellipse cx="581.962" cy="1249.27" rx="11.16" ry="4.9104" fill="#bfd5da" transform="rotate(240 581.962 1249.27)"/><ellipse cx="594.238" cy="1249.27" rx="11.16" ry="4.9104" fill="#bfd5da" transform="rotate(300 594.238 1249.27)"/><line x1="607" y1="992" x2="655" y2="1050" stroke="#bfd5da" stroke-width="6" stroke-linecap="round" opacity="1"/><line x1="592" y1="1048" x2="640" y2="1012" stroke="#bfd5da" stroke-width="10" stroke-linecap="round" opacity="0.9"/><line x1="610" y1="1035" x2="652" y2="1020" stroke="#bfd5da" stroke-width="8" stroke-linecap="round" opacity="0.9"/><ellipse cx="528" cy="1178" rx="26" ry="12" fill="#bfd5da" transform="rotate(25 528 1178)"/><ellipse cx="515" cy="1192" rx="16" ry="9" fill="#bfd5da" transform="rotate(-50 515 1192)"/><ellipse cx="548" cy="1165" rx="16" ry="8" fill="#bfd5da" transform="rotate(-20 548 1165)"/></g><g transform="translate(2780,1060) scale(0.18629)"><path d="M280 145 L880 145 Q892 145 892 157 L892 573 Q892 585 880 585 L640 585 L580 628 L520 585 L280 585 Q268 585 268 573 L268 157 Q268 145 280 145 Z" fill="#bfd5da" opacity="0.55" /><path d="M295 175 L500 175 Q570 175 580 215 Q590 175 660 175 L865 175 L865 558 L660 558 Q600 558 580 600 Q560 558 500 558 L295 558 Z" fill="#155d64" opacity="0.55" /><line x1="580" y1="215" x2="580" y2="600" stroke="#bfd5da" stroke-width="8" stroke-linecap="butt" opacity="0.55"/><line x1="330" y1="242" x2="530" y2="242" stroke="#bfd5da" stroke-width="9" stroke-linecap="butt" opacity="1"/><line x1="330" y1="295" x2="530" y2="295" stroke="#bfd5da" stroke-width="9" stroke-linecap="butt" opacity="1"/><line x1="330" y1="345" x2="530" y2="345" stroke="#bfd5da" stroke-width="9" stroke-linecap="butt" opacity="1"/><line x1="330" y1="395" x2="530" y2="395" stroke="#bfd5da" stroke-width="9" stroke-linecap="butt" opacity="1"/><line x1="330" y1="445" x2="530" y2="445" stroke="#bfd5da" stroke-width="9" stroke-linecap="butt" opacity="1"/><line x1="330" y1="493" x2="530" y2="493" stroke="#bfd5da" stroke-width="9" stroke-linecap="butt" opacity="1"/><polygon points="622,377 622,308.25 634,277 672,254.5 710,277 722,308.25 722,377" fill="#bfd5da" opacity="1"/><path d="M612 312 L628 269.5 L672 243.25 L716 269.5 L732 312" fill="none" stroke="#bfd5da" stroke-width="6" stroke-linecap="butt" stroke-linejoin="miter"/><path d="M620 309.5 L632 275.125 L672 252 L712 275.125 L724 309.5" fill="none" stroke="#155d64" stroke-width="3.5" stroke-linecap="butt" stroke-linejoin="round" /><rect x="660" y="289.5" width="24" height="24" fill="none" stroke="#155d64" stroke-width="3.5"/><line x1="660" y1="289.5" x2="684" y2="313.5" stroke="#155d64" stroke-width="3" stroke-linecap="butt" opacity="1"/><line x1="684" y1="289.5" x2="660" y2="313.5" stroke="#155d64" stroke-width="3" stroke-linecap="butt" opacity="1"/><rect x="644" y="339.5" width="27" height="37.5" fill="none" stroke="#155d64" stroke-width="3.5"/><line x1="644" y1="339.5" x2="671" y2="377" stroke="#155d64" stroke-width="3" stroke-linecap="butt" opacity="1"/><line x1="671" y1="339.5" x2="644" y2="377" stroke="#155d64" stroke-width="3" stroke-linecap="butt" opacity="1"/><rect x="673" y="339.5" width="27" height="37.5" fill="none" stroke="#155d64" stroke-width="3.5"/><line x1="673" y1="339.5" x2="700" y2="377" stroke="#155d64" stroke-width="3" stroke-linecap="butt" opacity="1"/><line x1="700" y1="339.5" x2="673" y2="377" stroke="#155d64" stroke-width="3" stroke-linecap="butt" opacity="1"/><circle cx="792" cy="305" r="35.2" fill="#bfd5da" opacity="1"/><circle cx="820.106" cy="314.053" r="14.96" fill="#bfd5da" opacity="1"/><circle cx="806.936" cy="327.875" r="14.96" fill="#bfd5da" opacity="1"/><circle cx="786.777" cy="330.995" r="14.96" fill="#bfd5da" opacity="1"/><circle cx="769.062" cy="321.951" r="14.96" fill="#bfd5da" opacity="1"/><circle cx="762.08" cy="304.975" r="14.96" fill="#bfd5da" opacity="1"/><circle cx="769.098" cy="288.012" r="14.96" fill="#bfd5da" opacity="1"/><circle cx="786.832" cy="278.997" r="14.96" fill="#bfd5da" opacity="1"/><circle cx="806.984" cy="282.149" r="14.96" fill="#bfd5da" opacity="1"/><circle cx="820.125" cy="295.994" r="14.96" fill="#bfd5da" opacity="1"/><path d="M774.84 333.6 C785.4 349 785.4 366 782.1 377 L801.9 377 C798.6 366 798.6 349 809.16 333.6 Z" fill="#bfd5da" /><clipPath id="fc4"><rect x="597" y="381.3" width="236" height="133.7"/></clipPath><rect x="597" y="375" width="236" height="12.6" fill="#bfd5da" opacity="1" rx="0"/><g clip-path="url(#fc4)" opacity="1"><path d="M283.1 387.0Q50.2 399.8 -105.1 516.0L-69.7 516.0Q79.0 399.8 302.0 387.0Z" fill="#bfd5da"/><path d="M320.9 387.0Q107.8 399.8 -34.3 516.0L1.1 516.0Q136.6 399.8 339.8 387.0Z" fill="#bfd5da"/><path d="M358.6 387.0Q165.4 399.8 36.5 516.0L71.9 516.0Q194.1 399.8 377.5 387.0Z" fill="#bfd5da"/><path d="M396.4 387.0Q222.9 399.8 107.3 516.0L142.7 516.0Q251.7 399.8 415.3 387.0Z" fill="#bfd5da"/><path d="M434.2 387.0Q280.5 399.8 178.1 516.0L213.5 516.0Q309.3 399.8 453.0 387.0Z" fill="#bfd5da"/><path d="M471.9 387.0Q338.1 399.8 248.9 516.0L284.3 516.0Q366.9 399.8 490.8 387.0Z" fill="#bfd5da"/><path d="M509.7 387.0Q395.7 399.8 319.7 516.0L355.1 516.0Q424.5 399.8 528.6 387.0Z" fill="#bfd5da"/><path d="M547.4 387.0Q453.3 399.8 390.5 516.0L425.9 516.0Q482.1 399.8 566.3 387.0Z" fill="#bfd5da"/><path d="M585.2 387.0Q510.9 399.8 461.3 516.0L496.7 516.0Q539.7 399.8 604.1 387.0Z" fill="#bfd5da"/><path d="M623.0 387.0Q568.4 399.8 532.1 516.0L567.5 516.0Q597.2 399.8 641.8 387.0Z" fill="#bfd5da"/><path d="M660.7 387.0Q626.0 399.8 602.9 516.0L638.3 516.0Q654.8 399.8 679.6 387.0Z" fill="#bfd5da"/><path d="M698.5 387.0Q683.6 399.8 673.7 516.0L709.1 516.0Q712.4 399.8 717.4 387.0Z" fill="#bfd5da"/><path d="M736.2 387.0Q741.2 399.8 744.5 516.0L779.9 516.0Q770.0 399.8 755.1 387.0Z" fill="#bfd5da"/><path d="M774.0 387.0Q798.8 399.8 815.3 516.0L850.7 516.0Q827.6 399.8 792.9 387.0Z" fill="#bfd5da"/><path d="M811.8 387.0Q856.4 399.8 886.1 516.0L921.5 516.0Q885.2 399.8 830.6 387.0Z" fill="#bfd5da"/><path d="M849.5 387.0Q913.9 399.8 956.9 516.0L992.3 516.0Q942.7 399.8 868.4 387.0Z" fill="#bfd5da"/><path d="M887.3 387.0Q971.5 399.8 1027.7 516.0L1063.1 516.0Q1000.3 399.8 906.2 387.0Z" fill="#bfd5da"/><path d="M925.0 387.0Q1029.1 399.8 1098.5 516.0L1133.9 516.0Q1057.9 399.8 943.9 387.0Z" fill="#bfd5da"/><path d="M962.8 387.0Q1086.7 399.8 1169.3 516.0L1204.7 516.0Q1115.5 399.8 981.7 387.0Z" fill="#bfd5da"/><path d="M1000.6 387.0Q1144.3 399.8 1240.1 516.0L1275.5 516.0Q1173.1 399.8 1019.4 387.0Z" fill="#bfd5da"/><path d="M1038.3 387.0Q1201.9 399.8 1310.9 516.0L1346.3 516.0Q1230.7 399.8 1057.2 387.0Z" fill="#bfd5da"/><path d="M1076.1 387.0Q1259.5 399.8 1381.7 516.0L1417.1 516.0Q1288.2 399.8 1095.0 387.0Z" fill="#bfd5da"/><path d="M1113.8 387.0Q1317.0 399.8 1452.5 516.0L1487.9 516.0Q1345.8 399.8 1132.7 387.0Z" fill="#bfd5da"/><path d="M1151.6 387.0Q1374.6 399.8 1523.3 516.0L1558.7 516.0Q1403.4 399.8 1170.5 387.0Z" fill="#bfd5da"/><path d="M1189.4 387.0Q1432.2 399.8 1594.1 516.0L1629.5 516.0Q1461.0 399.8 1208.2 387.0Z" fill="#bfd5da"/></g><clipPath id="fc5"><rect x="210" y="1579.03" width="955" height="233.975"/></clipPath><rect x="210" y="1568" width="955" height="22.05" fill="#bfd5da" opacity="0.6" rx="0"/><g clip-path="url(#fc5)" opacity="0.6"><path d="M-350.5 1588.9Q-758.7 1611.4 -1030.9 1814.0L-944.2 1814.0Q-684.7 1611.4 -295.3 1588.9Z" fill="#bfd5da"/><path d="M-250.2 1588.9Q-624.1 1611.4 -873.3 1814.0L-786.7 1814.0Q-550.0 1611.4 -195.0 1588.9Z" fill="#bfd5da"/><path d="M-149.9 1588.9Q-489.4 1611.4 -715.8 1814.0L-629.1 1814.0Q-415.4 1611.4 -94.8 1588.9Z" fill="#bfd5da"/><path d="M-49.6 1588.9Q-354.8 1611.4 -558.2 1814.0L-471.5 1814.0Q-280.7 1611.4 5.5 1588.9Z" fill="#bfd5da"/><path d="M50.6 1588.9Q-220.1 1611.4 -400.6 1814.0L-313.9 1814.0Q-146.0 1611.4 105.8 1588.9Z" fill="#bfd5da"/><path d="M150.9 1588.9Q-85.5 1611.4 -243.0 1814.0L-156.4 1814.0Q-11.4 1611.4 206.1 1588.9Z" fill="#bfd5da"/><path d="M251.2 1588.9Q49.2 1611.4 -85.5 1814.0L1.2 1814.0Q123.3 1611.4 306.3 1588.9Z" fill="#bfd5da"/><path d="M351.5 1588.9Q183.9 1611.4 72.1 1814.0L158.8 1814.0Q257.9 1611.4 406.6 1588.9Z" fill="#bfd5da"/><path d="M451.7 1588.9Q318.5 1611.4 229.7 1814.0L316.4 1814.0Q392.6 1611.4 506.9 1588.9Z" fill="#bfd5da"/><path d="M552.0 1588.9Q453.2 1611.4 387.3 1814.0L473.9 1814.0Q527.2 1611.4 607.2 1588.9Z" fill="#bfd5da"/><path d="M652.3 1588.9Q587.8 1611.4 544.8 1814.0L631.5 1814.0Q661.9 1611.4 707.4 1588.9Z" fill="#bfd5da"/><path d="M752.6 1588.9Q722.5 1611.4 702.4 1814.0L789.1 1814.0Q796.5 1611.4 807.7 1588.9Z" fill="#bfd5da"/><path d="M852.8 1588.9Q857.1 1611.4 860.0 1814.0L946.7 1814.0Q931.2 1611.4 908.0 1588.9Z" fill="#bfd5da"/><path d="M953.1 1588.9Q991.8 1611.4 1017.6 1814.0L1104.2 1814.0Q1065.8 1611.4 1008.3 1588.9Z" fill="#bfd5da"/><path d="M1053.4 1588.9Q1126.4 1611.4 1175.1 1814.0L1261.8 1814.0Q1200.5 1611.4 1108.5 1588.9Z" fill="#bfd5da"/><path d="M1153.7 1588.9Q1261.1 1611.4 1332.7 1814.0L1419.4 1814.0Q1335.2 1611.4 1208.8 1588.9Z" fill="#bfd5da"/><path d="M1253.9 1588.9Q1395.8 1611.4 1490.3 1814.0L1577.0 1814.0Q1469.8 1611.4 1309.1 1588.9Z" fill="#bfd5da"/><path d="M1354.2 1588.9Q1530.4 1611.4 1647.9 1814.0L1734.5 1814.0Q1604.5 1611.4 1409.4 1588.9Z" fill="#bfd5da"/><path d="M1454.5 1588.9Q1665.1 1611.4 1805.4 1814.0L1892.1 1814.0Q1739.1 1611.4 1509.6 1588.9Z" fill="#bfd5da"/><path d="M1554.8 1588.9Q1799.7 1611.4 1963.0 1814.0L2049.7 1814.0Q1873.8 1611.4 1609.9 1588.9Z" fill="#bfd5da"/><path d="M1655.0 1588.9Q1934.4 1611.4 2120.6 1814.0L2207.3 1814.0Q2008.4 1611.4 1710.2 1588.9Z" fill="#bfd5da"/><path d="M1755.3 1588.9Q2069.0 1611.4 2278.2 1814.0L2364.8 1814.0Q2143.1 1611.4 1810.5 1588.9Z" fill="#bfd5da"/><path d="M1855.6 1588.9Q2203.7 1611.4 2435.7 1814.0L2522.4 1814.0Q2277.7 1611.4 1910.7 1588.9Z" fill="#bfd5da"/><path d="M1955.9 1588.9Q2338.3 1611.4 2593.3 1814.0L2680.0 1814.0Q2412.4 1611.4 2011.0 1588.9Z" fill="#bfd5da"/><path d="M2056.1 1588.9Q2473.0 1611.4 2750.9 1814.0L2837.6 1814.0Q2547.1 1611.4 2111.3 1588.9Z" fill="#bfd5da"/></g><circle cx="703" cy="1368" r="102.4" fill="#bfd5da" opacity="1"/><circle cx="784.763" cy="1394.33" r="43.52" fill="#bfd5da" opacity="1"/><circle cx="746.45" cy="1434.55" r="43.52" fill="#bfd5da" opacity="1"/><circle cx="687.806" cy="1443.62" r="43.52" fill="#bfd5da" opacity="1"/><circle cx="636.271" cy="1417.31" r="43.52" fill="#bfd5da" opacity="1"/><circle cx="615.96" cy="1367.93" r="43.52" fill="#bfd5da" opacity="1"/><circle cx="636.376" cy="1318.58" r="43.52" fill="#bfd5da" opacity="1"/><circle cx="687.966" cy="1292.35" r="43.52" fill="#bfd5da" opacity="1"/><circle cx="746.59" cy="1301.53" r="43.52" fill="#bfd5da" opacity="1"/><circle cx="784.819" cy="1341.8" r="43.52" fill="#bfd5da" opacity="1"/><path d="M653.08 1451.2 C683.8 1496 683.8 1538 674.2 1570 L731.8 1570 C722.2 1538 722.2 1496 752.92 1451.2 Z" fill="#bfd5da" /><g transform="translate(930,1348) scale(0.44048) translate(-455,-726)"><circle cx="637" cy="773" r="47" fill="#bfd5da" opacity="1"/><path d="M575 880 Q600 830 640 835 Q680 850 665 900 L630 1040 L560 1040 Z" fill="#bfd5da" /><path d="M590 870 L530 920 L495 990" fill="none" stroke="#bfd5da" stroke-width="32" stroke-linecap="round" stroke-linejoin="round" /><path d="M655 870 L705 940 L760 972" fill="none" stroke="#bfd5da" stroke-width="32" stroke-linecap="round" stroke-linejoin="round" /><path d="M600 1020 L685 1100 L715 1208" fill="none" stroke="#bfd5da" stroke-width="44" stroke-linecap="round" stroke-linejoin="round" /><path d="M585 1030 L545 1120 L478 1205" fill="none" stroke="#bfd5da" stroke-width="44" stroke-linecap="round" stroke-linejoin="round" /></g><circle cx="315" cy="1525" r="36" fill="none" stroke="#bfd5da" stroke-width="9"/><circle cx="463" cy="1525" r="36" fill="none" stroke="#bfd5da" stroke-width="9"/><path d="M315 1525 L365 1450 L440 1450 L463 1525 M365 1450 L395 1525 L440 1450 M430 1425 L440 1450" fill="none" stroke="#bfd5da" stroke-width="8" stroke-linecap="round" stroke-linejoin="round" /><circle cx="392" cy="1345" r="21" fill="#bfd5da" opacity="1"/><path d="M385 1378 L350 1400 L345 1455 L385 1465 L398 1520" fill="none" stroke="#bfd5da" stroke-width="22" stroke-linecap="round" stroke-linejoin="round" /><path d="M378 1395 L410 1425 L438 1428" fill="none" stroke="#bfd5da" stroke-width="12" stroke-linecap="round" stroke-linejoin="round" /></g>
<g transform="translate(2440,1530) scale(0.36223)"><polygon points="578,160 933,160 965,218 545,218" fill="#cdb6d0" opacity="1"/><path d="M570 125 L958 125 L1008 222 L1400 222" fill="none" stroke="#cdb6d0" stroke-width="13" stroke-linecap="butt" stroke-linejoin="miter" /><path d="M562.6 120.0Q573.9 81.3 595.2 55.6Q584.3 87.8 578.5 120.0Z" fill="#cdb6d0" opacity="1"/><path d="M581.2 120.0Q584.0 80.6 570.7 54.3Q590.3 87.1 597.5 120.0Z" fill="#cdb6d0" opacity="1"/><path d="M601.6 120.0Q601.9 74.8 581.4 44.7Q606.4 82.3 616.1 120.0Z" fill="#cdb6d0" opacity="1"/><path d="M615.0 120.0Q622.6 74.3 634.4 43.9Q630.0 81.9 627.3 120.0Z" fill="#cdb6d0" opacity="1"/><path d="M640.5 120.0Q649.7 70.0 660.6 36.6Q659.4 78.3 657.6 120.0Z" fill="#cdb6d0" opacity="1"/><path d="M652.1 120.0Q657.2 96.6 659.3 81.0Q663.5 100.5 664.5 120.0Z" fill="#cdb6d0" opacity="1"/><path d="M668.9 120.0Q671.0 90.3 655.8 70.4Q676.9 95.2 684.7 120.0Z" fill="#cdb6d0" opacity="1"/><path d="M689.0 120.0Q696.2 73.4 699.1 42.4Q705.1 81.2 706.4 120.0Z" fill="#cdb6d0" opacity="1"/><path d="M709.4 120.0Q714.6 78.5 713.9 50.8Q721.5 85.4 723.7 120.0Z" fill="#cdb6d0" opacity="1"/><path d="M731.2 120.0Q743.6 69.1 766.1 35.2Q755.1 77.6 749.1 120.0Z" fill="#cdb6d0" opacity="1"/><path d="M744.6 120.0Q747.8 90.6 741.6 71.0Q753.1 95.5 757.1 120.0Z" fill="#cdb6d0" opacity="1"/><path d="M766.4 120.0Q776.0 85.8 791.8 63.0Q785.4 91.5 781.6 120.0Z" fill="#cdb6d0" opacity="1"/><path d="M787.4 120.0Q785.9 73.3 759.3 42.1Q789.2 81.1 801.1 120.0Z" fill="#cdb6d0" opacity="1"/><path d="M804.3 120.0Q815.6 83.9 838.0 59.8Q825.9 89.9 819.6 120.0Z" fill="#cdb6d0" opacity="1"/><path d="M813.9 120.0Q823.0 79.4 837.9 52.3Q831.7 86.2 828.1 120.0Z" fill="#cdb6d0" opacity="1"/><path d="M830.1 120.0Q842.0 87.7 861.8 66.2Q853.4 93.1 848.5 120.0Z" fill="#cdb6d0" opacity="1"/><path d="M851.6 120.0Q853.0 90.1 840.0 70.2Q857.4 95.1 864.0 120.0Z" fill="#cdb6d0" opacity="1"/><path d="M875.6 120.0Q882.3 92.1 885.9 73.4Q890.4 96.7 891.3 120.0Z" fill="#cdb6d0" opacity="1"/><path d="M886.3 120.0Q888.4 76.5 870.9 47.5Q894.7 83.8 903.7 120.0Z" fill="#cdb6d0" opacity="1"/><path d="M905.3 120.0Q907.9 85.2 897.4 62.1Q913.5 91.0 919.5 120.0Z" fill="#cdb6d0" opacity="1"/><path d="M930.2 120.0Q935.2 74.5 926.5 44.2Q943.6 82.1 949.6 120.0Z" fill="#cdb6d0" opacity="1"/><path d="M941.1 120.0Q951.6 86.0 967.8 63.3Q962.1 91.7 958.4 120.0Z" fill="#cdb6d0" opacity="1"/><line x1="1040" y1="95" x2="1040" y2="190" stroke="#cdb6d0" stroke-width="11" stroke-linecap="round" opacity="1"/><line x1="1015" y1="147" x2="1065" y2="147" stroke="#cdb6d0" stroke-width="8" stroke-linecap="butt" opacity="1"/><line x1="1015" y1="182" x2="1065" y2="182" stroke="#cdb6d0" stroke-width="8" stroke-linecap="butt" opacity="1"/><path d="M1060.0 147.0Q1087.7 169.0 1115.3 147.0Q1143.0 125.0 1170.7 147.0Q1198.3 169.0 1226.0 147.0Q1253.7 125.0 1281.3 147.0Q1309.0 169.0 1336.7 147.0Q1364.3 125.0 1392.0 147.0" fill="none" stroke="#cdb6d0" stroke-width="12" stroke-linecap="round" opacity="1"/><path d="M1060.0 182.0Q1087.7 204.0 1115.3 182.0Q1143.0 160.0 1170.7 182.0Q1198.3 204.0 1226.0 182.0Q1253.7 160.0 1281.3 182.0Q1309.0 204.0 1336.7 182.0Q1364.3 160.0 1392.0 182.0" fill="none" stroke="#cdb6d0" stroke-width="12" stroke-linecap="round" opacity="1"/><circle cx="652" cy="575" r="37" fill="#cdb6d0" opacity="1"/><line x1="705.65" y1="575" x2="725.65" y2="575" stroke="#cdb6d0" stroke-width="9" stroke-linecap="round" opacity="1"/><line x1="689.936" y1="612.936" x2="704.078" y2="627.078" stroke="#cdb6d0" stroke-width="9" stroke-linecap="round" opacity="1"/><line x1="652" y1="628.65" x2="652" y2="648.65" stroke="#cdb6d0" stroke-width="9" stroke-linecap="round" opacity="1"/><line x1="614.064" y1="612.936" x2="599.922" y2="627.078" stroke="#cdb6d0" stroke-width="9" stroke-linecap="round" opacity="1"/><line x1="598.35" y1="575" x2="578.35" y2="575" stroke="#cdb6d0" stroke-width="9" stroke-linecap="round" opacity="1"/><line x1="614.064" y1="537.064" x2="599.922" y2="522.922" stroke="#cdb6d0" stroke-width="9" stroke-linecap="round" opacity="1"/><line x1="652" y1="521.35" x2="652" y2="501.35" stroke="#cdb6d0" stroke-width="9" stroke-linecap="round" opacity="1"/><line x1="689.936" y1="537.064" x2="704.078" y2="522.922" stroke="#cdb6d0" stroke-width="9" stroke-linecap="round" opacity="1"/><polygon points="425,830 425,748 480,682 548,765 695,765 695,830" fill="#cdb6d0" opacity="1"/><polygon points="478,668 635,668 714,767 556,767" fill="#cdb6d0" opacity="1"/><line x1="402" y1="765" x2="480" y2="670" stroke="#cdb6d0" stroke-width="13" stroke-linecap="butt" opacity="1"/><polygon points="528,688 560,688 582,715 550,715" fill="#55154a" opacity="1"/><polygon points="568,688 600,688 622,715 590,715" fill="#55154a" opacity="1"/><polygon points="608,688 640,688 662,715 630,715" fill="#55154a" opacity="1"/><polygon points="560,722 592,722 614,749 582,749" fill="#55154a" opacity="1"/><polygon points="600,722 632,722 654,749 622,749" fill="#55154a" opacity="1"/><polygon points="640,722 672,722 694,749 662,749" fill="#55154a" opacity="1"/><rect x="470" y="765" width="30" height="30" fill="#55154a" opacity="1" rx="0"/><polygon points="673,1180 687,1180 693,1400 667,1400" fill="#cdb6d0" opacity="1"/><circle cx="680" cy="1178" r="15" fill="#cdb6d0" opacity="1"/><path d="M672 1175 C640 1120 640 1060 655 1020 C690 1070 700 1120 690 1175 Z" fill="#cdb6d0" /><path d="M682 1168 C740 1170 800 1200 838 1228 C780 1245 720 1230 680 1190 Z" fill="#cdb6d0" /><path d="M672 1180 C630 1210 590 1250 560 1285 C600 1280 650 1240 688 1190 Z" fill="#cdb6d0" /><line x1="380" y1="1405" x2="778" y2="1405" stroke="#cdb6d0" stroke-width="18" stroke-linecap="round" opacity="1"/><path d="M416.7 1400.0Q390.0 1234.0 244.1 1241.9Q403.8 1247.2 427.3 1400.0Z" fill="#cdb6d0"/><path d="M421.1 1400.0Q396.2 1194.7 260.0 1204.5Q409.9 1207.9 431.7 1400.0Z" fill="#cdb6d0"/><path d="M425.5 1400.0Q404.9 1176.9 293.3 1187.5Q418.6 1190.1 436.1 1400.0Z" fill="#cdb6d0"/><path d="M429.9 1400.0Q418.3 1214.6 357.5 1223.5Q432.0 1227.8 440.5 1400.0Z" fill="#cdb6d0"/><path d="M434.3 1400.0Q420.0 1174.3 344.4 1185.1Q433.8 1187.5 444.9 1400.0Z" fill="#cdb6d0"/><path d="M438.7 1400.0Q428.7 1236.1 377.1 1243.9Q442.4 1249.3 449.3 1400.0Z" fill="#cdb6d0"/><path d="M443.1 1400.0Q438.2 1203.5 415.3 1212.8Q451.9 1216.7 453.7 1400.0Z" fill="#cdb6d0"/><path d="M447.5 1400.0Q445.8 1135.5 441.4 1148.1Q459.5 1148.7 458.1 1400.0Z" fill="#cdb6d0"/><path d="M451.9 1400.0Q453.2 1195.5 465.7 1205.3Q466.9 1208.7 462.5 1400.0Z" fill="#cdb6d0"/><path d="M456.3 1400.0Q460.8 1097.9 491.6 1112.3Q474.5 1111.1 466.9 1400.0Z" fill="#cdb6d0"/><path d="M460.7 1400.0Q470.2 1229.2 529.2 1237.4Q483.9 1242.4 471.3 1400.0Z" fill="#cdb6d0"/><path d="M465.1 1400.0Q478.6 1244.1 560.1 1251.6Q492.3 1257.3 475.7 1400.0Z" fill="#cdb6d0"/><path d="M469.5 1400.0Q485.5 1257.5 581.3 1264.3Q499.2 1270.7 480.1 1400.0Z" fill="#cdb6d0"/><path d="M473.9 1400.0Q487.9 1182.8 572.5 1193.1Q501.6 1196.0 484.5 1400.0Z" fill="#cdb6d0"/><path d="M478.3 1400.0Q497.1 1271.5 608.5 1277.7Q510.8 1284.7 488.9 1400.0Z" fill="#cdb6d0"/><path d="M482.7 1400.0Q513.8 1221.6 695.3 1230.1Q527.5 1234.8 493.3 1400.0Z" fill="#cdb6d0"/><text x="52" y="1622" font-size="200" style="fill:#cdb6d0">€</text><path d="M232 1688 C200 1730 198 1800 240 1826 C290 1846 322 1800 312 1745 C306 1705 288 1684 262 1676 Z" fill="#cdb6d0" /><path d="M212 1622 C232 1640 244 1656 248 1674" fill="none" stroke="#cdb6d0" stroke-width="13" stroke-linecap="round" stroke-linejoin="round" /><path d="M222 1690 L248 1668 L282 1678 L298 1710 L270 1698 L252 1712 L244 1694 Z" fill="#cdb6d0" stroke="#55154a" stroke-width="3" stroke-linecap="round" stroke-linejoin="round" /><path d="M350 1700 C300 1680 278 1730 290 1775 C300 1815 330 1830 350 1822 C372 1830 402 1815 412 1775 C424 1730 400 1680 350 1700 Z" fill="#cdb6d0" stroke="#55154a" stroke-width="5" stroke-linecap="round" stroke-linejoin="round" /><path d="M350 1700 C352 1685 360 1675 368 1670" fill="none" stroke="#cdb6d0" stroke-width="7" stroke-linecap="round" stroke-linejoin="round" /><path d="M400 1700 C440 1680 478 1710 474 1755 C470 1790 440 1800 420 1800 C425 1815 430 1825 428 1835 C415 1825 410 1812 408 1800 Z" fill="#cdb6d0" /><path d="M420 1700 C415 1650 400 1620 360 1612 C340 1608 320 1615 305 1625 C330 1590 380 1590 405 1620 C410 1590 420 1560 450 1548 C470 1545 470 1560 460 1580 C440 1610 435 1650 432 1700 C445 1650 470 1600 500 1595 C525 1598 530 1620 525 1640 C510 1615 490 1620 470 1650 C455 1675 448 1690 445 1702 Z" fill="#cdb6d0" /></g>
<g transform="translate(2140,2180) scale(0.29197)"><circle cx="912" cy="160" r="35" fill="#d8c0dc" opacity="1"/><line x1="962.75" y1="160" x2="980.75" y2="160" stroke="#d8c0dc" stroke-width="9" stroke-linecap="round" opacity="1"/><line x1="947.886" y1="195.886" x2="960.614" y2="208.614" stroke="#d8c0dc" stroke-width="9" stroke-linecap="round" opacity="1"/><line x1="912" y1="210.75" x2="912" y2="228.75" stroke="#d8c0dc" stroke-width="9" stroke-linecap="round" opacity="1"/><line x1="876.114" y1="195.886" x2="863.386" y2="208.614" stroke="#d8c0dc" stroke-width="9" stroke-linecap="round" opacity="1"/><line x1="861.25" y1="160" x2="843.25" y2="160" stroke="#d8c0dc" stroke-width="9" stroke-linecap="round" opacity="1"/><line x1="876.114" y1="124.114" x2="863.386" y2="111.386" stroke="#d8c0dc" stroke-width="9" stroke-linecap="round" opacity="1"/><line x1="912" y1="109.25" x2="912" y2="91.25" stroke="#d8c0dc" stroke-width="9" stroke-linecap="round" opacity="1"/><line x1="947.886" y1="124.114" x2="960.614" y2="111.386" stroke="#d8c0dc" stroke-width="9" stroke-linecap="round" opacity="1"/><line x1="840" y1="358" x2="1160" y2="358" stroke="#d8c0dc" stroke-width="13" stroke-linecap="butt" opacity="1"/><line x1="894.4" y1="326" x2="993.6" y2="265.2" stroke="#d8c0dc" stroke-width="13" stroke-linecap="round" opacity="1"/><line x1="945.6" y1="297.2" x2="945.6" y2="358" stroke="#d8c0dc" stroke-width="11.7" stroke-linecap="butt" opacity="1"/><line x1="1009.6" y1="326" x2="1108.8" y2="265.2" stroke="#d8c0dc" stroke-width="13" stroke-linecap="round" opacity="1"/><line x1="1060.8" y1="297.2" x2="1060.8" y2="358" stroke="#d8c0dc" stroke-width="11.7" stroke-linecap="butt" opacity="1"/><polygon points="482,522 500,512 510,492 545,478 575,480 600,472 615,490 640,500 632,522 612,532 626,556 606,566 598,588 604,606 590,600 572,584 556,560 538,540 522,522 502,528" fill="#d8c0dc" stroke="#d8c0dc" stroke-width="5" stroke-linejoin="round"/><polygon points="606,466 640,462 662,474 640,490 618,488" fill="#d8c0dc" stroke="#d8c0dc" stroke-width="5" stroke-linejoin="round"/><polygon points="590,608 622,608 648,636 640,662 622,684 606,706 596,676 588,640" fill="#d8c0dc" stroke="#d8c0dc" stroke-width="5" stroke-linejoin="round"/><polygon points="658,508 676,490 694,474 722,470 738,486 726,510 700,528 672,534" fill="#d8c0dc" stroke="#d8c0dc" stroke-width="5" stroke-linejoin="round"/><polygon points="662,548 700,540 730,546 752,572 748,616 730,650 716,672 702,660 694,616 664,588" fill="#d8c0dc" stroke="#d8c0dc" stroke-width="5" stroke-linejoin="round"/><polygon points="734,482 760,468 800,462 858,472 882,494 872,528 852,556 840,596 818,620 804,588 782,598 762,566 748,524" fill="#d8c0dc" stroke="#d8c0dc" stroke-width="5" stroke-linejoin="round"/><polygon points="824,642 846,632 866,634 880,656 858,682 830,672" fill="#d8c0dc" stroke="#d8c0dc" stroke-width="5" stroke-linejoin="round"/><circle cx="892" cy="690" r="6" fill="#d8c0dc" opacity="1"/><circle cx="858" cy="612" r="6" fill="#d8c0dc" opacity="1"/><circle cx="870" cy="580" r="5" fill="#d8c0dc" opacity="1"/><ellipse cx="262" cy="690" rx="72" ry="100" fill="#8a4d7e" stroke="#d8c0dc" stroke-width="7" transform="rotate(22 262 690)"/><circle cx="240" cy="640" r="5" fill="#d8c0dc" opacity="1"/><circle cx="290" cy="680" r="5" fill="#d8c0dc" opacity="1"/><circle cx="225" cy="720" r="5" fill="#d8c0dc" opacity="1"/><circle cx="270" cy="745" r="5" fill="#d8c0dc" opacity="1"/><circle cx="300" cy="630" r="5" fill="#d8c0dc" opacity="1"/><circle cx="245" cy="765" r="5" fill="#d8c0dc" opacity="1"/><circle cx="210" cy="690" r="5" fill="#d8c0dc" opacity="1"/><path d="M420 770 C470 765 490 830 470 880 C450 930 380 950 340 930 C310 905 330 860 365 850 C385 840 385 790 420 770 Z" fill="#8a4d7e" stroke="#d8c0dc" stroke-width="7" stroke-linecap="round" stroke-linejoin="round" /><line x1="325" y1="778" x2="350" y2="812" stroke="#e7a8d8" stroke-width="4" stroke-linecap="round" opacity="1"/><polygon points="358,822 338,812 352,800" fill="#e7a8d8" opacity="1"/><line x1="458" y1="955" x2="483" y2="988" stroke="#e7a8d8" stroke-width="4" stroke-linecap="round" opacity="1"/><polygon points="491,998 471,988 485,976" fill="#e7a8d8" opacity="1"/><path d="M535 985 L680 980 L675 1020 C665 1060 670 1110 685 1150 L685 1190 L530 1190 L530 1150 C545 1110 545 1060 535 1020 Z" fill="#8a4d7e" stroke="#d8c0dc" stroke-width="7" stroke-linecap="round" stroke-linejoin="round" /><line x1="540" y1="1000" x2="675" y2="996" stroke="#d8c0dc" stroke-width="10" stroke-linecap="butt" opacity="1"/><line x1="537" y1="1170" x2="680" y2="1170" stroke="#d8c0dc" stroke-width="10" stroke-linecap="butt" opacity="1"/><path d="M615 1035 C645 1035 650 1075 635 1100 C620 1125 580 1135 562 1120 C550 1105 565 1085 580 1080 C592 1070 595 1042 615 1035 Z" fill="#8a4d7e" stroke="#d8c0dc" stroke-width="5" stroke-linecap="round" stroke-linejoin="round" /><polygon points="64,1470 64,1289.88 95.44,1208 195,1149.05 294.56,1208 326,1289.88 326,1470" fill="#d8c0dc" opacity="1"/><path d="M37.8 1299.7 L79.72 1188.35 L195 1119.58 L310.28 1188.35 L352.2 1299.7" fill="none" stroke="#d8c0dc" stroke-width="15.72" stroke-linecap="butt" stroke-linejoin="miter"/><path d="M58.76 1293.15 L90.2 1203.09 L195 1142.5 L299.8 1203.09 L331.24 1293.15" fill="none" stroke="#691d59" stroke-width="9.17" stroke-linecap="butt" stroke-linejoin="round" /><rect x="195" y="1240.75" width="0" height="0" fill="none" stroke="#691d59" stroke-width="9.17"/><line x1="195" y1="1240.75" x2="195" y2="1240.75" stroke="#691d59" stroke-width="7.86" stroke-linecap="butt" opacity="1"/><line x1="195" y1="1240.75" x2="195" y2="1240.75" stroke="#691d59" stroke-width="7.86" stroke-linecap="butt" opacity="1"/><rect x="121.64" y="1371.75" width="70.74" height="98.25" fill="none" stroke="#691d59" stroke-width="9.17"/><line x1="121.64" y1="1371.75" x2="192.38" y2="1470" stroke="#691d59" stroke-width="7.86" stroke-linecap="butt" opacity="1"/><line x1="192.38" y1="1371.75" x2="121.64" y2="1470" stroke="#691d59" stroke-width="7.86" stroke-linecap="butt" opacity="1"/><rect x="197.62" y="1371.75" width="70.74" height="98.25" fill="none" stroke="#691d59" stroke-width="9.17"/><line x1="197.62" y1="1371.75" x2="268.36" y2="1470" stroke="#691d59" stroke-width="7.86" stroke-linecap="butt" opacity="1"/><line x1="268.36" y1="1371.75" x2="197.62" y2="1470" stroke="#691d59" stroke-width="7.86" stroke-linecap="butt" opacity="1"/><path d="M138 1192 C128 1225 140 1262 176 1292 L196 1278 Z" fill="#691d59" /><line x1="186" y1="1285" x2="232" y2="1342" stroke="#691d59" stroke-width="17" stroke-linecap="round" opacity="1"/><line x1="226" y1="1252" x2="162" y2="1342" stroke="#691d59" stroke-width="15" stroke-linecap="round" opacity="1"/><path d="M208 1238 L226 1262 L246 1250 L258 1204 L250 1200 L240 1236 L236 1236 L244 1197 L236 1194 L226 1232 L222 1232 L230 1192 L222 1190 Z" fill="#691d59" /></g><g transform="translate(1880,2520) scale(0.20855)"><line x1="130" y1="480" x2="300" y2="480" stroke="#d8c0dc" stroke-width="5" stroke-linecap="round" opacity="1"/><line x1="360" y1="480" x2="525" y2="480" stroke="#d8c0dc" stroke-width="5" stroke-linecap="round" opacity="1"/><ellipse cx="330" cy="518" rx="52" ry="24" fill="#d8c0dc"/><path d="M300 512 L225 500 L225 485 M360 512 L435 500 L435 485" fill="none" stroke="#d8c0dc" stroke-width="12" stroke-linecap="round" stroke-linejoin="round" /><path d="M300 535 L258 575 L256 603 M360 535 L400 572 L402 600" fill="none" stroke="#d8c0dc" stroke-width="11" stroke-linecap="round" stroke-linejoin="round" /><rect x="312" y="495" width="36" height="14" fill="#d8c0dc" opacity="1" rx="0"/><ellipse cx="338" cy="606" rx="10" ry="15" fill="#d8c0dc" transform="rotate(30 338 606)"/><ellipse cx="298" cy="640" rx="10" ry="15" fill="#d8c0dc" transform="rotate(30 298 640)"/><ellipse cx="342" cy="662" rx="10" ry="15" fill="#d8c0dc" transform="rotate(30 342 662)"/><ellipse cx="292" cy="655" rx="10" ry="15" fill="#d8c0dc" transform="rotate(30 292 655)"/><rect x="275" y="742" width="387" height="20" fill="#d8c0dc" opacity="1" rx="0"/><path d="M340.79 758 C340.79 847.6 294.737 892.4 275 982 L356.27 982 C365.558 892.4 387.23 847.6 387.23 758 Z" fill="#d8c0dc" /><path d="M429.8 758 C429.8 847.6 429.8 892.4 429.8 982 L491.72 982 C485.915 892.4 472.37 847.6 472.37 758 Z" fill="#d8c0dc" /><path d="M514.94 758 C514.94 847.6 569.12 892.4 592.34 982 L673.61 982 C638.78 892.4 557.51 847.6 557.51 758 Z" fill="#d8c0dc" /><circle cx="962" cy="250.5" r="52.725" fill="#d8c0dc" opacity="1"/><rect x="900.95" y="317.1" width="122.1" height="233.1" fill="#d8c0dc" opacity="1" rx="16.65"/><rect x="856.55" y="317.1" width="210.9" height="66.6" fill="#d8c0dc" opacity="1" rx="33.3"/><rect x="856.55" y="339.3" width="38.85" height="199.8" fill="#d8c0dc" opacity="1" rx="19.425"/><rect x="1028.6" y="339.3" width="38.85" height="199.8" fill="#d8c0dc" opacity="1" rx="19.425"/><rect x="900.95" y="505.8" width="56.61" height="244.2" fill="#d8c0dc" opacity="1" rx="22.2"/><rect x="966.44" y="505.8" width="56.61" height="244.2" fill="#d8c0dc" opacity="1" rx="22.2"/><polygon points="874,185 960,145.44 1046,185 960,224.56" fill="#d8c0dc" opacity="1"/><line x1="822" y1="305" x2="822" y2="632.08" stroke="#d8c0dc" stroke-width="13" stroke-linecap="butt" opacity="1"/><line x1="788.4" y1="311.5" x2="855.6" y2="311.5" stroke="#d8c0dc" stroke-width="13" stroke-linecap="butt" opacity="1"/><path d="M774 747 L774 670.48 Q774 632.08 812.4 632.08 L831.6 632.08 Q870 632.08 870 670.48 L870 747" fill="none" stroke="#d8c0dc" stroke-width="10.4" stroke-linecap="butt" stroke-linejoin="round" /><line x1="806" y1="632.08" x2="806" y2="747" stroke="#d8c0dc" stroke-width="10.4" stroke-linecap="butt" opacity="1"/><line x1="838" y1="632.08" x2="838" y2="747" stroke="#d8c0dc" stroke-width="10.4" stroke-linecap="butt" opacity="1"/><path d="M870 440 L822 468" fill="none" stroke="#d8c0dc" stroke-width="30" stroke-linecap="round" stroke-linejoin="round" /></g>
<g transform="translate(1100,2650) scale(0.41710)"><clipPath id="fc6"><rect x="88" y="275.6" width="384" height="154.4"/></clipPath><rect x="88" y="270" width="384" height="11.2" fill="#dec8e2" opacity="1" rx="0"/><g clip-path="url(#fc6)" opacity="1"><path d="M71.2 280.6Q-300.8 295.6 -501.2 431.0L-456.8 431.0Q-265.7 295.6 89.2 280.6Z" fill="#dec8e2"/><path d="M103.9 280.6Q-237.0 295.6 -420.5 431.0L-376.2 431.0Q-201.9 295.6 121.8 280.6Z" fill="#dec8e2"/><path d="M136.5 280.6Q-173.1 295.6 -339.9 431.0L-295.5 431.0Q-138.0 295.6 154.5 280.6Z" fill="#dec8e2"/><path d="M169.2 280.6Q-109.3 295.6 -259.2 431.0L-214.9 431.0Q-74.2 295.6 187.1 280.6Z" fill="#dec8e2"/><path d="M201.8 280.6Q-45.5 295.6 -178.6 431.0L-134.2 431.0Q-10.3 295.6 219.8 280.6Z" fill="#dec8e2"/><path d="M234.4 280.6Q18.4 295.6 -98.0 431.0L-53.6 431.0Q53.5 295.6 252.4 280.6Z" fill="#dec8e2"/><path d="M267.1 280.6Q82.2 295.6 -17.3 431.0L27.0 431.0Q117.3 295.6 285.0 280.6Z" fill="#dec8e2"/><path d="M299.7 280.6Q146.1 295.6 63.3 431.0L107.7 431.0Q181.2 295.6 317.7 280.6Z" fill="#dec8e2"/><path d="M332.4 280.6Q209.9 295.6 144.0 431.0L188.3 431.0Q245.0 295.6 350.3 280.6Z" fill="#dec8e2"/><path d="M365.0 280.6Q273.7 295.6 224.6 431.0L269.0 431.0Q308.9 295.6 383.0 280.6Z" fill="#dec8e2"/><path d="M397.6 280.6Q337.6 295.6 305.2 431.0L349.6 431.0Q372.7 295.6 415.6 280.6Z" fill="#dec8e2"/><path d="M430.3 280.6Q401.4 295.6 385.9 431.0L430.2 431.0Q436.5 295.6 448.2 280.6Z" fill="#dec8e2"/><path d="M462.9 280.6Q465.3 295.6 466.5 431.0L510.9 431.0Q500.4 295.6 480.9 280.6Z" fill="#dec8e2"/><path d="M495.6 280.6Q529.1 295.6 547.2 431.0L591.5 431.0Q564.2 295.6 513.5 280.6Z" fill="#dec8e2"/><path d="M528.2 280.6Q592.9 295.6 627.8 431.0L672.2 431.0Q628.1 295.6 546.2 280.6Z" fill="#dec8e2"/><path d="M560.8 280.6Q656.8 295.6 708.4 431.0L752.8 431.0Q691.9 295.6 578.8 280.6Z" fill="#dec8e2"/><path d="M593.5 280.6Q720.6 295.6 789.1 431.0L833.4 431.0Q755.7 295.6 611.4 280.6Z" fill="#dec8e2"/><path d="M626.1 280.6Q784.5 295.6 869.7 431.0L914.1 431.0Q819.6 295.6 644.1 280.6Z" fill="#dec8e2"/><path d="M658.8 280.6Q848.3 295.6 950.4 431.0L994.7 431.0Q883.4 295.6 676.7 280.6Z" fill="#dec8e2"/><path d="M691.4 280.6Q912.1 295.6 1031.0 431.0L1075.4 431.0Q947.3 295.6 709.4 280.6Z" fill="#dec8e2"/><path d="M724.0 280.6Q976.0 295.6 1111.6 431.0L1156.0 431.0Q1011.1 295.6 742.0 280.6Z" fill="#dec8e2"/><path d="M756.7 280.6Q1039.8 295.6 1192.3 431.0L1236.6 431.0Q1074.9 295.6 774.6 280.6Z" fill="#dec8e2"/><path d="M789.3 280.6Q1103.7 295.6 1272.9 431.0L1317.3 431.0Q1138.8 295.6 807.3 280.6Z" fill="#dec8e2"/><path d="M822.0 280.6Q1167.5 295.6 1353.6 431.0L1397.9 431.0Q1202.6 295.6 839.9 280.6Z" fill="#dec8e2"/><path d="M854.6 280.6Q1231.3 295.6 1434.2 431.0L1478.6 431.0Q1266.5 295.6 872.6 280.6Z" fill="#dec8e2"/></g><path d="M85 318 Q280 300 475 312" fill="none" stroke="#7a2368" stroke-width="11" stroke-linecap="butt" stroke-linejoin="round" /><path d="M85 375 Q280 360 475 370" fill="none" stroke="#7a2368" stroke-width="11" stroke-linecap="butt" stroke-linejoin="round" /><clipPath id="fc7"><rect x="528" y="341.28" width="387" height="150.72"/></clipPath><rect x="528" y="335" width="387" height="12.56" fill="#dec8e2" opacity="1" rx="0"/><g clip-path="url(#fc7)" opacity="1"><path d="M464.6 346.9Q-124.2 364.3 -376.6 493.0L-328.2 493.0Q-86.6 364.3 477.2 346.9Z" fill="#dec8e2"/><path d="M489.8 346.9Q-49.0 364.3 -279.9 493.0L-231.5 493.0Q-11.3 364.3 502.4 346.9Z" fill="#dec8e2"/><path d="M514.9 346.9Q26.3 364.3 -183.1 493.0L-134.7 493.0Q63.9 364.3 527.5 346.9Z" fill="#dec8e2"/><path d="M540.1 346.9Q101.6 364.3 -86.4 493.0L-38.0 493.0Q139.2 364.3 552.7 346.9Z" fill="#dec8e2"/><path d="M565.2 346.9Q176.8 364.3 10.4 493.0L58.8 493.0Q214.5 364.3 577.8 346.9Z" fill="#dec8e2"/><path d="M590.4 346.9Q252.1 364.3 107.1 493.0L155.5 493.0Q289.8 364.3 603.0 346.9Z" fill="#dec8e2"/><path d="M615.6 346.9Q327.4 364.3 203.9 493.0L252.3 493.0Q365.0 364.3 628.1 346.9Z" fill="#dec8e2"/><path d="M640.7 346.9Q402.7 364.3 300.6 493.0L349.0 493.0Q440.3 364.3 653.3 346.9Z" fill="#dec8e2"/><path d="M665.9 346.9Q477.9 364.3 397.4 493.0L445.8 493.0Q515.6 364.3 678.4 346.9Z" fill="#dec8e2"/><path d="M691.0 346.9Q553.2 364.3 494.1 493.0L542.5 493.0Q590.8 364.3 703.6 346.9Z" fill="#dec8e2"/><path d="M716.2 346.9Q628.5 364.3 590.9 493.0L639.3 493.0Q666.1 364.3 728.8 346.9Z" fill="#dec8e2"/><path d="M741.3 346.9Q703.7 364.3 687.6 493.0L736.0 493.0Q741.4 364.3 753.9 346.9Z" fill="#dec8e2"/><path d="M766.5 346.9Q779.0 364.3 784.4 493.0L832.8 493.0Q816.7 364.3 779.1 346.9Z" fill="#dec8e2"/><path d="M791.6 346.9Q854.3 364.3 881.1 493.0L929.5 493.0Q891.9 364.3 804.2 346.9Z" fill="#dec8e2"/><path d="M816.8 346.9Q929.6 364.3 977.9 493.0L1026.3 493.0Q967.2 364.3 829.4 346.9Z" fill="#dec8e2"/><path d="M842.0 346.9Q1004.8 364.3 1074.6 493.0L1123.0 493.0Q1042.5 364.3 854.5 346.9Z" fill="#dec8e2"/><path d="M867.1 346.9Q1080.1 364.3 1171.4 493.0L1219.8 493.0Q1117.7 364.3 879.7 346.9Z" fill="#dec8e2"/><path d="M892.3 346.9Q1155.4 364.3 1268.1 493.0L1316.5 493.0Q1193.0 364.3 904.8 346.9Z" fill="#dec8e2"/><path d="M917.4 346.9Q1230.6 364.3 1364.9 493.0L1413.3 493.0Q1268.3 364.3 930.0 346.9Z" fill="#dec8e2"/><path d="M942.6 346.9Q1305.9 364.3 1461.6 493.0L1510.0 493.0Q1343.6 364.3 955.2 346.9Z" fill="#dec8e2"/><path d="M967.7 346.9Q1381.2 364.3 1558.4 493.0L1606.8 493.0Q1418.8 364.3 980.3 346.9Z" fill="#dec8e2"/><path d="M992.9 346.9Q1456.5 364.3 1655.1 493.0L1703.5 493.0Q1494.1 364.3 1005.5 346.9Z" fill="#dec8e2"/><path d="M1018.0 346.9Q1531.7 364.3 1751.9 493.0L1800.3 493.0Q1569.4 364.3 1030.6 346.9Z" fill="#dec8e2"/><path d="M1043.2 346.9Q1607.0 364.3 1848.6 493.0L1897.0 493.0Q1644.6 364.3 1055.8 346.9Z" fill="#dec8e2"/><path d="M1068.3 346.9Q1682.3 364.3 1945.4 493.0L1993.8 493.0Q1719.9 364.3 1080.9 346.9Z" fill="#dec8e2"/></g><path d="M650 494 C690 430 730 370 790 347 L920 347 L920 494 Z" fill="#7a2368" /><path d="M655 492 C695 430 735 372 792 349 L913 349 C893 380 888 440 878 492 Z" fill="#b58bb0" /><circle cx="1060" cy="212" r="25" fill="#dec8e2" opacity="1"/><line x1="1096.25" y1="212" x2="1109.25" y2="212" stroke="#dec8e2" stroke-width="6" stroke-linecap="round" opacity="1"/><line x1="1085.63" y1="237.633" x2="1094.83" y2="246.825" stroke="#dec8e2" stroke-width="6" stroke-linecap="round" opacity="1"/><line x1="1060" y1="248.25" x2="1060" y2="261.25" stroke="#dec8e2" stroke-width="6" stroke-linecap="round" opacity="1"/><line x1="1034.37" y1="237.633" x2="1025.17" y2="246.825" stroke="#dec8e2" stroke-width="6" stroke-linecap="round" opacity="1"/><line x1="1023.75" y1="212" x2="1010.75" y2="212" stroke="#dec8e2" stroke-width="6" stroke-linecap="round" opacity="1"/><line x1="1034.37" y1="186.367" x2="1025.17" y2="177.175" stroke="#dec8e2" stroke-width="6" stroke-linecap="round" opacity="1"/><line x1="1060" y1="175.75" x2="1060" y2="162.75" stroke="#dec8e2" stroke-width="6" stroke-linecap="round" opacity="1"/><line x1="1085.63" y1="186.367" x2="1094.83" y2="177.175" stroke="#dec8e2" stroke-width="6" stroke-linecap="round" opacity="1"/><line x1="1015" y1="348" x2="1237" y2="348" stroke="#dec8e2" stroke-width="9" stroke-linecap="butt" opacity="1"/><line x1="1052.74" y1="325.8" x2="1121.56" y2="283.62" stroke="#dec8e2" stroke-width="9" stroke-linecap="round" opacity="1"/><line x1="1088.26" y1="305.82" x2="1088.26" y2="348" stroke="#dec8e2" stroke-width="8.1" stroke-linecap="butt" opacity="1"/><line x1="1132.66" y1="325.8" x2="1201.48" y2="283.62" stroke="#dec8e2" stroke-width="9" stroke-linecap="round" opacity="1"/><line x1="1168.18" y1="305.82" x2="1168.18" y2="348" stroke="#dec8e2" stroke-width="8.1" stroke-linecap="butt" opacity="1"/><line x1="1078" y1="512" x2="1260" y2="378" stroke="#dec8e2" stroke-width="8" stroke-linecap="round" opacity="1"/><rect x="1195" y="452" width="192" height="10" fill="#dec8e2" opacity="1" rx="0"/><path d="M1227.64 460 C1227.64 505.2 1204.79 527.8 1195 573 L1235.32 573 C1239.93 527.8 1250.68 505.2 1250.68 460 Z" fill="#dec8e2" /><path d="M1271.8 460 C1271.8 505.2 1271.8 527.8 1271.8 573 L1302.52 573 C1299.64 527.8 1292.92 505.2 1292.92 460 Z" fill="#dec8e2" /><path d="M1314.04 460 C1314.04 505.2 1340.92 527.8 1352.44 573 L1392.76 573 C1375.48 527.8 1335.16 505.2 1335.16 460 Z" fill="#dec8e2" /><line x1="1540" y1="58" x2="1540" y2="172" stroke="#dec8e2" stroke-width="14" stroke-linecap="butt" opacity="1"/><line x1="1758" y1="58" x2="1758" y2="172" stroke="#dec8e2" stroke-width="14" stroke-linecap="butt" opacity="1"/><line x1="1482" y1="172" x2="1816" y2="172" stroke="#dec8e2" stroke-width="15" stroke-linecap="butt" opacity="1"/><line x1="1625" y1="172" x2="1625" y2="292" stroke="#dec8e2" stroke-width="15" stroke-linecap="butt" opacity="1"/><clipPath id="fc8"><rect x="1572" y="62.7" width="170" height="87.3"/></clipPath><rect x="1572" y="60" width="170" height="5.4" fill="#dec8e2" opacity="1" rx="0"/><g clip-path="url(#fc8)" opacity="1"><path d="M1498.2 65.1Q1352.0 73.6 1254.4 151.0L1274.8 151.0Q1368.3 73.6 1508.4 65.1Z" fill="#dec8e2"/><path d="M1518.6 65.1Q1384.6 73.6 1295.2 151.0L1315.6 151.0Q1400.9 73.6 1528.8 65.1Z" fill="#dec8e2"/><path d="M1539.0 65.1Q1417.2 73.6 1336.0 151.0L1356.4 151.0Q1433.6 73.6 1549.2 65.1Z" fill="#dec8e2"/><path d="M1559.4 65.1Q1449.9 73.6 1376.8 151.0L1397.2 151.0Q1466.2 73.6 1569.6 65.1Z" fill="#dec8e2"/><path d="M1579.8 65.1Q1482.5 73.6 1417.6 151.0L1438.0 151.0Q1498.8 73.6 1590.0 65.1Z" fill="#dec8e2"/><path d="M1600.2 65.1Q1515.2 73.6 1458.4 151.0L1478.8 151.0Q1531.5 73.6 1610.4 65.1Z" fill="#dec8e2"/><path d="M1620.6 65.1Q1547.8 73.6 1499.2 151.0L1519.6 151.0Q1564.1 73.6 1630.8 65.1Z" fill="#dec8e2"/><path d="M1641.0 65.1Q1580.4 73.6 1540.0 151.0L1560.4 151.0Q1596.8 73.6 1651.2 65.1Z" fill="#dec8e2"/><path d="M1661.4 65.1Q1613.1 73.6 1580.8 151.0L1601.2 151.0Q1629.4 73.6 1671.6 65.1Z" fill="#dec8e2"/><path d="M1681.8 65.1Q1645.7 73.6 1621.6 151.0L1642.0 151.0Q1662.0 73.6 1692.0 65.1Z" fill="#dec8e2"/><path d="M1702.2 65.1Q1678.4 73.6 1662.4 151.0L1682.8 151.0Q1694.7 73.6 1712.4 65.1Z" fill="#dec8e2"/><path d="M1722.6 65.1Q1711.0 73.6 1703.2 151.0L1723.6 151.0Q1727.3 73.6 1732.8 65.1Z" fill="#dec8e2"/><path d="M1743.0 65.1Q1743.6 73.6 1744.0 151.0L1764.4 151.0Q1760.0 73.6 1753.2 65.1Z" fill="#dec8e2"/><path d="M1763.4 65.1Q1776.3 73.6 1784.8 151.0L1805.2 151.0Q1792.6 73.6 1773.6 65.1Z" fill="#dec8e2"/><path d="M1783.8 65.1Q1808.9 73.6 1825.6 151.0L1846.0 151.0Q1825.2 73.6 1794.0 65.1Z" fill="#dec8e2"/><path d="M1804.2 65.1Q1841.6 73.6 1866.4 151.0L1886.8 151.0Q1857.9 73.6 1814.4 65.1Z" fill="#dec8e2"/><path d="M1824.6 65.1Q1874.2 73.6 1907.2 151.0L1927.6 151.0Q1890.5 73.6 1834.8 65.1Z" fill="#dec8e2"/><path d="M1845.0 65.1Q1906.8 73.6 1948.0 151.0L1968.4 151.0Q1923.2 73.6 1855.2 65.1Z" fill="#dec8e2"/><path d="M1865.4 65.1Q1939.5 73.6 1988.8 151.0L2009.2 151.0Q1955.8 73.6 1875.6 65.1Z" fill="#dec8e2"/><path d="M1885.8 65.1Q1972.1 73.6 2029.6 151.0L2050.0 151.0Q1988.4 73.6 1896.0 65.1Z" fill="#dec8e2"/><path d="M1906.2 65.1Q2004.8 73.6 2070.4 151.0L2090.8 151.0Q2021.1 73.6 1916.4 65.1Z" fill="#dec8e2"/><path d="M1926.6 65.1Q2037.4 73.6 2111.2 151.0L2131.6 151.0Q2053.7 73.6 1936.8 65.1Z" fill="#dec8e2"/><path d="M1947.0 65.1Q2070.0 73.6 2152.0 151.0L2172.4 151.0Q2086.4 73.6 1957.2 65.1Z" fill="#dec8e2"/><path d="M1967.4 65.1Q2102.7 73.6 2192.8 151.0L2213.2 151.0Q2119.0 73.6 1977.6 65.1Z" fill="#dec8e2"/><path d="M1987.8 65.1Q2135.3 73.6 2233.6 151.0L2254.0 151.0Q2151.6 73.6 1998.0 65.1Z" fill="#dec8e2"/></g><clipPath id="fc9"><rect x="1482" y="198.85" width="118" height="92.15"/></clipPath><rect x="1482" y="196" width="118" height="5.7" fill="#dec8e2" opacity="1" rx="0"/><g clip-path="url(#fc9)" opacity="1"><path d="M1374.4 201.4Q1222.1 210.4 1120.6 292.0L1140.6 292.0Q1237.9 210.4 1383.8 201.4Z" fill="#dec8e2"/><path d="M1393.3 201.4Q1253.7 210.4 1160.7 292.0L1180.7 292.0Q1269.5 210.4 1402.7 201.4Z" fill="#dec8e2"/><path d="M1412.1 201.4Q1285.3 210.4 1200.8 292.0L1220.9 292.0Q1301.2 210.4 1421.6 201.4Z" fill="#dec8e2"/><path d="M1431.0 201.4Q1317.0 210.4 1240.9 292.0L1261.0 292.0Q1332.8 210.4 1440.5 201.4Z" fill="#dec8e2"/><path d="M1449.9 201.4Q1348.6 210.4 1281.0 292.0L1301.1 292.0Q1364.4 210.4 1459.3 201.4Z" fill="#dec8e2"/><path d="M1468.8 201.4Q1380.2 210.4 1321.2 292.0L1341.2 292.0Q1396.0 210.4 1478.2 201.4Z" fill="#dec8e2"/><path d="M1487.7 201.4Q1411.8 210.4 1361.3 292.0L1381.3 292.0Q1427.6 210.4 1497.1 201.4Z" fill="#dec8e2"/><path d="M1506.5 201.4Q1443.5 210.4 1401.4 292.0L1421.5 292.0Q1459.3 210.4 1516.0 201.4Z" fill="#dec8e2"/><path d="M1525.4 201.4Q1475.1 210.4 1441.5 292.0L1461.6 292.0Q1490.9 210.4 1534.9 201.4Z" fill="#dec8e2"/><path d="M1544.3 201.4Q1506.7 210.4 1481.6 292.0L1501.7 292.0Q1522.5 210.4 1553.7 201.4Z" fill="#dec8e2"/><path d="M1563.2 201.4Q1538.3 210.4 1521.8 292.0L1541.8 292.0Q1554.1 210.4 1572.6 201.4Z" fill="#dec8e2"/><path d="M1582.1 201.4Q1570.0 210.4 1561.9 292.0L1581.9 292.0Q1585.8 210.4 1591.5 201.4Z" fill="#dec8e2"/><path d="M1600.9 201.4Q1601.6 210.4 1602.0 292.0L1622.1 292.0Q1617.4 210.4 1610.4 201.4Z" fill="#dec8e2"/><path d="M1619.8 201.4Q1633.2 210.4 1642.1 292.0L1662.2 292.0Q1649.0 210.4 1629.3 201.4Z" fill="#dec8e2"/><path d="M1638.7 201.4Q1664.8 210.4 1682.2 292.0L1702.3 292.0Q1680.6 210.4 1648.1 201.4Z" fill="#dec8e2"/><path d="M1657.6 201.4Q1696.5 210.4 1722.4 292.0L1742.4 292.0Q1712.3 210.4 1667.0 201.4Z" fill="#dec8e2"/><path d="M1676.5 201.4Q1728.1 210.4 1762.5 292.0L1782.5 292.0Q1743.9 210.4 1685.9 201.4Z" fill="#dec8e2"/><path d="M1695.3 201.4Q1759.7 210.4 1802.6 292.0L1822.7 292.0Q1775.5 210.4 1704.8 201.4Z" fill="#dec8e2"/><path d="M1714.2 201.4Q1791.3 210.4 1842.7 292.0L1862.8 292.0Q1807.1 210.4 1723.7 201.4Z" fill="#dec8e2"/><path d="M1733.1 201.4Q1822.9 210.4 1882.8 292.0L1902.9 292.0Q1838.8 210.4 1742.5 201.4Z" fill="#dec8e2"/><path d="M1752.0 201.4Q1854.6 210.4 1923.0 292.0L1943.0 292.0Q1870.4 210.4 1761.4 201.4Z" fill="#dec8e2"/><path d="M1770.9 201.4Q1886.2 210.4 1963.1 292.0L1983.1 292.0Q1902.0 210.4 1780.3 201.4Z" fill="#dec8e2"/><path d="M1789.7 201.4Q1917.8 210.4 2003.2 292.0L2023.3 292.0Q1933.6 210.4 1799.2 201.4Z" fill="#dec8e2"/><path d="M1808.6 201.4Q1949.4 210.4 2043.3 292.0L2063.4 292.0Q1965.3 210.4 1818.1 201.4Z" fill="#dec8e2"/><path d="M1827.5 201.4Q1981.1 210.4 2083.4 292.0L2103.5 292.0Q1996.9 210.4 1836.9 201.4Z" fill="#dec8e2"/></g><clipPath id="fc10"><rect x="1640" y="198.85" width="170" height="92.15"/></clipPath><rect x="1640" y="196" width="170" height="5.7" fill="#dec8e2" opacity="1" rx="0"/><g clip-path="url(#fc10)" opacity="1"><path d="M1566.2 201.4Q1420.0 210.4 1322.4 292.0L1342.8 292.0Q1436.3 210.4 1576.4 201.4Z" fill="#dec8e2"/><path d="M1586.6 201.4Q1452.6 210.4 1363.2 292.0L1383.6 292.0Q1468.9 210.4 1596.8 201.4Z" fill="#dec8e2"/><path d="M1607.0 201.4Q1485.2 210.4 1404.0 292.0L1424.4 292.0Q1501.6 210.4 1617.2 201.4Z" fill="#dec8e2"/><path d="M1627.4 201.4Q1517.9 210.4 1444.8 292.0L1465.2 292.0Q1534.2 210.4 1637.6 201.4Z" fill="#dec8e2"/><path d="M1647.8 201.4Q1550.5 210.4 1485.6 292.0L1506.0 292.0Q1566.8 210.4 1658.0 201.4Z" fill="#dec8e2"/><path d="M1668.2 201.4Q1583.2 210.4 1526.4 292.0L1546.8 292.0Q1599.5 210.4 1678.4 201.4Z" fill="#dec8e2"/><path d="M1688.6 201.4Q1615.8 210.4 1567.2 292.0L1587.6 292.0Q1632.1 210.4 1698.8 201.4Z" fill="#dec8e2"/><path d="M1709.0 201.4Q1648.4 210.4 1608.0 292.0L1628.4 292.0Q1664.8 210.4 1719.2 201.4Z" fill="#dec8e2"/><path d="M1729.4 201.4Q1681.1 210.4 1648.8 292.0L1669.2 292.0Q1697.4 210.4 1739.6 201.4Z" fill="#dec8e2"/><path d="M1749.8 201.4Q1713.7 210.4 1689.6 292.0L1710.0 292.0Q1730.0 210.4 1760.0 201.4Z" fill="#dec8e2"/><path d="M1770.2 201.4Q1746.4 210.4 1730.4 292.0L1750.8 292.0Q1762.7 210.4 1780.4 201.4Z" fill="#dec8e2"/><path d="M1790.6 201.4Q1779.0 210.4 1771.2 292.0L1791.6 292.0Q1795.3 210.4 1800.8 201.4Z" fill="#dec8e2"/><path d="M1811.0 201.4Q1811.6 210.4 1812.0 292.0L1832.4 292.0Q1828.0 210.4 1821.2 201.4Z" fill="#dec8e2"/><path d="M1831.4 201.4Q1844.3 210.4 1852.8 292.0L1873.2 292.0Q1860.6 210.4 1841.6 201.4Z" fill="#dec8e2"/><path d="M1851.8 201.4Q1876.9 210.4 1893.6 292.0L1914.0 292.0Q1893.2 210.4 1862.0 201.4Z" fill="#dec8e2"/><path d="M1872.2 201.4Q1909.6 210.4 1934.4 292.0L1954.8 292.0Q1925.9 210.4 1882.4 201.4Z" fill="#dec8e2"/><path d="M1892.6 201.4Q1942.2 210.4 1975.2 292.0L1995.6 292.0Q1958.5 210.4 1902.8 201.4Z" fill="#dec8e2"/><path d="M1913.0 201.4Q1974.8 210.4 2016.0 292.0L2036.4 292.0Q1991.2 210.4 1923.2 201.4Z" fill="#dec8e2"/><path d="M1933.4 201.4Q2007.5 210.4 2056.8 292.0L2077.2 292.0Q2023.8 210.4 1943.6 201.4Z" fill="#dec8e2"/><path d="M1953.8 201.4Q2040.1 210.4 2097.6 292.0L2118.0 292.0Q2056.4 210.4 1964.0 201.4Z" fill="#dec8e2"/><path d="M1974.2 201.4Q2072.8 210.4 2138.4 292.0L2158.8 292.0Q2089.1 210.4 1984.4 201.4Z" fill="#dec8e2"/><path d="M1994.6 201.4Q2105.4 210.4 2179.2 292.0L2199.6 292.0Q2121.7 210.4 2004.8 201.4Z" fill="#dec8e2"/><path d="M2015.0 201.4Q2138.0 210.4 2220.0 292.0L2240.4 292.0Q2154.4 210.4 2025.2 201.4Z" fill="#dec8e2"/><path d="M2035.4 201.4Q2170.7 210.4 2260.8 292.0L2281.2 292.0Q2187.0 210.4 2045.6 201.4Z" fill="#dec8e2"/><path d="M2055.8 201.4Q2203.3 210.4 2301.6 292.0L2322.0 292.0Q2219.6 210.4 2066.0 201.4Z" fill="#dec8e2"/></g></g>
<g transform="translate(250,2150) scale(0.46924)"><polygon points="860,237 888,240 878,300 912,312 908,358 902,385 940,425 980,460 965,505 930,545 880,575 850,610 800,655 740,682 690,672 655,662 672,620 690,575 720,500 740,450 790,420 805,385 800,350 815,325 800,300 822,265" fill="#e2cbe3" stroke="#e2cbe3" stroke-width="6" stroke-linejoin="round"/><rect x="1148" y="907" width="399" height="280" fill="#e2cbe3" opacity="1" rx="0"/><rect x="1265" y="1000" width="32" height="60" fill="#c596c3" opacity="0.7" rx="0"/><rect x="1275" y="1075" width="30" height="14" fill="#c596c3" opacity="0.5" rx="0"/><line x1="1232" y1="980" x2="1547" y2="980" stroke="#892a7a" stroke-width="8" stroke-linecap="butt" opacity="1"/><circle cx="1260" cy="978" r="17" fill="#892a7a" opacity="1"/><circle cx="1260" cy="978" r="8" fill="#e2cbe3" opacity="1"/><line x1="1260" y1="995" x2="1260" y2="1187" stroke="#892a7a" stroke-width="8" stroke-linecap="butt" opacity="1"/><rect x="1345" y="995" width="40" height="60" fill="#c596c3" stroke="#892a7a" stroke-width="8"/><rect x="1395" y="995" width="38" height="60" fill="#c596c3" stroke="#892a7a" stroke-width="8"/><rect x="1437" y="995" width="38" height="60" fill="#c596c3" stroke="#892a7a" stroke-width="8"/><rect x="1490" y="995" width="40" height="60" fill="#c596c3" stroke="#892a7a" stroke-width="8"/><rect x="1270" y="1095" width="50" height="38" fill="#e2cbe3" stroke="#892a7a" stroke-width="8"/><rect x="1270" y="1140" width="50" height="38" fill="#e2cbe3" stroke="#892a7a" stroke-width="8"/><polygon points="1338,1090 1547,1090 1547,1187 1352,1187" fill="#c596c3" stroke="#892a7a" stroke-width="7"/></g><g transform="translate(0,1520) scale(0.42961)"><polygon points="508,207 672,95 837,207" fill="#e7d0e8" opacity="1"/><rect x="527" y="206" width="293" height="167" fill="#e7d0e8" opacity="1" rx="0"/><circle cx="690" cy="167.5" r="19.475" fill="#9b2d86" opacity="1"/><rect x="667.45" y="192.1" width="45.1" height="86.1" fill="#9b2d86" opacity="1" rx="6.15"/><rect x="651.05" y="192.1" width="77.9" height="24.6" fill="#9b2d86" opacity="1" rx="12.3"/><rect x="651.05" y="200.3" width="14.35" height="73.8" fill="#9b2d86" opacity="1" rx="7.175"/><rect x="714.6" y="200.3" width="14.35" height="73.8" fill="#9b2d86" opacity="1" rx="7.175"/><rect x="667.45" y="261.8" width="20.91" height="90.2" fill="#9b2d86" opacity="1" rx="8.2"/><rect x="691.64" y="261.8" width="20.91" height="90.2" fill="#9b2d86" opacity="1" rx="8.2"/><line x1="633" y1="195" x2="633" y2="311.18" stroke="#9b2d86" stroke-width="5" stroke-linecap="butt" opacity="1"/><line x1="620.4" y1="197.5" x2="645.6" y2="197.5" stroke="#9b2d86" stroke-width="5" stroke-linecap="butt" opacity="1"/><path d="M615 352 L615 325.58 Q615 311.18 629.4 311.18 L636.6 311.18 Q651 311.18 651 325.58 L651 352" fill="none" stroke="#9b2d86" stroke-width="4" stroke-linecap="butt" stroke-linejoin="round" /><line x1="627" y1="311.18" x2="627" y2="352" stroke="#9b2d86" stroke-width="4" stroke-linecap="butt" opacity="1"/><line x1="639" y1="311.18" x2="639" y2="352" stroke="#9b2d86" stroke-width="4" stroke-linecap="butt" opacity="1"/><path d="M655 238 L633 250" fill="none" stroke="#9b2d86" stroke-width="11" stroke-linecap="round" stroke-linejoin="round" /><circle cx="270" cy="722" r="27" fill="#e7d0e8" opacity="1"/><rect x="232" y="755" width="78" height="100" fill="#e7d0e8" opacity="1" rx="22"/><rect x="238" y="840" width="30" height="85" fill="#e7d0e8" opacity="1" rx="12"/><rect x="275" y="840" width="30" height="85" fill="#e7d0e8" opacity="1" rx="12"/><path d="M240 775 L218 800 L215 812" fill="none" stroke="#e7d0e8" stroke-width="18" stroke-linecap="round" stroke-linejoin="round" /><path d="M305 775 L322 808" fill="none" stroke="#e7d0e8" stroke-width="18" stroke-linecap="round" stroke-linejoin="round" /><path d="M198 920 L198 812 Q200 795 215 800" fill="none" stroke="#e7d0e8" stroke-width="10" stroke-linecap="round" stroke-linejoin="round" /><circle cx="435" cy="730" r="25" fill="#e7d0e8" opacity="1"/><path d="M428 770 L440 845 L505 845 L525 905" fill="none" stroke="#e7d0e8" stroke-width="24" stroke-linecap="round" stroke-linejoin="round" /><path d="M432 790 L400 835" fill="none" stroke="#e7d0e8" stroke-width="16" stroke-linecap="round" stroke-linejoin="round" /><path d="M400 815 A62 62 0 1 0 495 885" fill="none" stroke="#e7d0e8" stroke-width="12" stroke-linecap="round"/><circle cx="617" cy="795" r="26" fill="#e7d0e8" opacity="1"/><rect x="590" y="830" width="55" height="55" fill="#e7d0e8" opacity="1" rx="12"/><rect x="592" y="870" width="22" height="48" fill="#e7d0e8" opacity="1" rx="9"/><rect x="621" y="870" width="22" height="48" fill="#e7d0e8" opacity="1" rx="9"/><path d="M597 840 L568 862 M638 840 L668 862" fill="none" stroke="#e7d0e8" stroke-width="15" stroke-linecap="round" stroke-linejoin="round" /><polygon points="735.5,905 735.5,757.188 761.3,690 843,641.625 924.7,690 950.5,757.188 950.5,905" fill="#e7d0e8" opacity="1"/><path d="M714 765.25 L748.4 673.875 L843 617.438 L937.6 673.875 L972 765.25" fill="none" stroke="#e7d0e8" stroke-width="12.9" stroke-linecap="butt" stroke-linejoin="miter"/><path d="M731.2 759.875 L757 685.969 L843 636.25 L929 685.969 L954.8 759.875" fill="none" stroke="#9b2d86" stroke-width="7.525" stroke-linecap="butt" stroke-linejoin="round" /><rect x="817.2" y="716.875" width="51.6" height="51.6" fill="none" stroke="#9b2d86" stroke-width="7.525"/><line x1="817.2" y1="716.875" x2="868.8" y2="768.475" stroke="#9b2d86" stroke-width="6.45" stroke-linecap="butt" opacity="1"/><line x1="868.8" y1="716.875" x2="817.2" y2="768.475" stroke="#9b2d86" stroke-width="6.45" stroke-linecap="butt" opacity="1"/><rect x="782.8" y="824.375" width="58.05" height="80.625" fill="none" stroke="#9b2d86" stroke-width="7.525"/><line x1="782.8" y1="824.375" x2="840.85" y2="905" stroke="#9b2d86" stroke-width="6.45" stroke-linecap="butt" opacity="1"/><line x1="840.85" y1="824.375" x2="782.8" y2="905" stroke="#9b2d86" stroke-width="6.45" stroke-linecap="butt" opacity="1"/><rect x="845.15" y="824.375" width="58.05" height="80.625" fill="none" stroke="#9b2d86" stroke-width="7.525"/><line x1="845.15" y1="824.375" x2="903.2" y2="905" stroke="#9b2d86" stroke-width="6.45" stroke-linecap="butt" opacity="1"/><line x1="903.2" y1="824.375" x2="845.15" y2="905" stroke="#9b2d86" stroke-width="6.45" stroke-linecap="butt" opacity="1"/><circle cx="718" cy="1432" r="54" fill="#e7d0e8" opacity="1"/><path d="M620 1548 Q620 1490 665 1478 Q718 1500 772 1478 Q818 1490 820 1548 Z" fill="#e7d0e8" /><path d="M660 1472 Q718 1500 775 1472" fill="none" stroke="#9b2d86" stroke-width="9" stroke-linecap="round" stroke-linejoin="round" /><polygon points="660,1385 776,1385 776,1415 718,1440 660,1415" fill="#e7d0e8" opacity="1"/><path d="M628 1368 L718 1330 L808 1368 L718 1412 Z" fill="#e7d0e8" stroke="#9b2d86" stroke-width="6" stroke-linecap="round" stroke-linejoin="round" /><polygon points="907.5,1493 907.5,1345.19 933.3,1278 1015,1229.62 1096.7,1278 1122.5,1345.19 1122.5,1493" fill="#e7d0e8" opacity="1"/><path d="M886 1353.25 L920.4 1261.88 L1015 1205.44 L1109.6 1261.88 L1144 1353.25" fill="none" stroke="#e7d0e8" stroke-width="12.9" stroke-linecap="butt" stroke-linejoin="miter"/><path d="M903.2 1347.88 L929 1273.97 L1015 1224.25 L1101 1273.97 L1126.8 1347.88" fill="none" stroke="#9b2d86" stroke-width="7.525" stroke-linecap="butt" stroke-linejoin="round" /><rect x="989.2" y="1304.88" width="51.6" height="51.6" fill="none" stroke="#9b2d86" stroke-width="7.525"/><line x1="989.2" y1="1304.88" x2="1040.8" y2="1356.47" stroke="#9b2d86" stroke-width="6.45" stroke-linecap="butt" opacity="1"/><line x1="1040.8" y1="1304.88" x2="989.2" y2="1356.47" stroke="#9b2d86" stroke-width="6.45" stroke-linecap="butt" opacity="1"/><rect x="954.8" y="1412.38" width="58.05" height="80.625" fill="none" stroke="#9b2d86" stroke-width="7.525"/><line x1="954.8" y1="1412.38" x2="1012.85" y2="1493" stroke="#9b2d86" stroke-width="6.45" stroke-linecap="butt" opacity="1"/><line x1="1012.85" y1="1412.38" x2="954.8" y2="1493" stroke="#9b2d86" stroke-width="6.45" stroke-linecap="butt" opacity="1"/><rect x="1017.15" y="1412.38" width="58.05" height="80.625" fill="none" stroke="#9b2d86" stroke-width="7.525"/><line x1="1017.15" y1="1412.38" x2="1075.2" y2="1493" stroke="#9b2d86" stroke-width="6.45" stroke-linecap="butt" opacity="1"/><line x1="1075.2" y1="1412.38" x2="1017.15" y2="1493" stroke="#9b2d86" stroke-width="6.45" stroke-linecap="butt" opacity="1"/></g>
<text x="279.6" y="816.0" font-size="24" textLength="203.6" lengthAdjust="spacingAndGlyphs">zo schoon mogelijke</text>
<text x="333.1" y="845.8" font-size="24" textLength="150.0" lengthAdjust="spacingAndGlyphs">ondergrond en</text>
<text x="386.7" y="875.7" font-size="24" textLength="144.4" lengthAdjust="spacingAndGlyphs">(oppervlakte-/</text>
<text x="439.4" y="904.6" font-size="24" textLength="124.4" lengthAdjust="spacingAndGlyphs">grondwater)</text>
<text x="247.9" y="987.5" font-size="31.5" textLength="187.8" lengthAdjust="spacingAndGlyphs">faciliteren van</text>
<text x="328.5" y="1027.6" font-size="31.5" textLength="180.3" lengthAdjust="spacingAndGlyphs">wandelpaden</text>
<text x="65.2" y="1094.7" font-size="31.5" textLength="287.5" lengthAdjust="spacingAndGlyphs">rekening houden met</text>
<text x="155.2" y="1134.3" font-size="31.5" textLength="288.4" lengthAdjust="spacingAndGlyphs">milieucontouren (o.a.</text>
<text x="244.1" y="1173.9" font-size="31.5" textLength="220.4" lengthAdjust="spacingAndGlyphs">uitstoot stikstof)</text>
<text x="111.8" y="1302.5" font-size="31.5" textLength="300.5" lengthAdjust="spacingAndGlyphs">geen licht-/geurhinder</text>
<text x="260.9" y="1342.5" font-size="31.5" textLength="162.1" lengthAdjust="spacingAndGlyphs">veroorzaken</text>
<text x="33.5" y="1437.1" font-size="24" textLength="278.6" lengthAdjust="spacingAndGlyphs">gezond voedsel produceren</text>
<text x="33.5" y="1467.4" font-size="24" textLength="263.7" lengthAdjust="spacingAndGlyphs">(o.a. beperken pesticiden)</text>
<text x="590.0" y="472.1" font-size="31.5" textLength="181.4" lengthAdjust="spacingAndGlyphs">verkeersveilig</text>
<text x="626.3" y="511.7" font-size="31.5" textLength="121.4" lengthAdjust="spacingAndGlyphs">bewegen</text>
<text x="665.1" y="551.3" font-size="31.5" textLength="235.7" lengthAdjust="spacingAndGlyphs">landbouwverkeer</text>
<text x="702.6" y="591.0" font-size="31.5" textLength="167.7" lengthAdjust="spacingAndGlyphs">(incl. schone</text>
<text x="741.0" y="630.6" font-size="31.5" textLength="97.2" lengthAdjust="spacingAndGlyphs">wegen)</text>
<text x="453.2" y="662.7" font-size="31.5" textLength="256.5" lengthAdjust="spacingAndGlyphs">goede onderploeg-</text>
<text x="482.0" y="702.3" font-size="31.5" textLength="209.0" lengthAdjust="spacingAndGlyphs">regeling ganzen</text>
<text x="509.5" y="742.0" font-size="31.5" textLength="211.9" lengthAdjust="spacingAndGlyphs">(i.v.m. Schiphol)</text>
<text x="888.0" y="362.3" font-size="31.5" textLength="160.6" lengthAdjust="spacingAndGlyphs">combineren</text>
<text x="901.8" y="402.4" font-size="31.5" textLength="143.1" lengthAdjust="spacingAndGlyphs">piekwater-</text>
<text x="917.2" y="442.2" font-size="31.5" textLength="160.6" lengthAdjust="spacingAndGlyphs">berging met</text>
<text x="931.8" y="481.6" font-size="31.5" textLength="147.8" lengthAdjust="spacingAndGlyphs">akkerbouw</text>
<text x="1142.7" y="261.6" font-size="31.5" textLength="95.6" lengthAdjust="spacingAndGlyphs">flexibel</text>
<text x="1154.4" y="301.7" font-size="31.5" textLength="187.2" lengthAdjust="spacingAndGlyphs">peilbeheer vs.</text>
<text x="1167.2" y="341.8" font-size="31.5" textLength="205.1" lengthAdjust="spacingAndGlyphs">vast peilbeheer</text>
<text x="1178.1" y="381.3" font-size="31.5" textLength="135.0" lengthAdjust="spacingAndGlyphs">gericht op</text>
<text x="1190.9" y="421.4" font-size="31.5" textLength="133.2" lengthAdjust="spacingAndGlyphs">landbouw</text>
<text x="1424.1" y="243.7" font-size="31.5" textLength="152.2" lengthAdjust="spacingAndGlyphs">extra water</text>
<text x="1424.1" y="283.8" font-size="31.5" textLength="131.4" lengthAdjust="spacingAndGlyphs">inlaten bij</text>
<text x="1424.1" y="323.6" font-size="31.5" textLength="110.2" lengthAdjust="spacingAndGlyphs">extreme</text>
<text x="1424.1" y="363.4" font-size="31.5" textLength="104.4" lengthAdjust="spacingAndGlyphs">droogte</text>
<text x="1646.7" y="311.2" font-size="31.5" textLength="188.3" lengthAdjust="spacingAndGlyphs">waterpompen</text>
<text x="1643.1" y="350.6" font-size="31.5" textLength="165.0" lengthAdjust="spacingAndGlyphs">en tractoren</text>
<text x="1639.4" y="390.8" font-size="31.5" textLength="193.4" lengthAdjust="spacingAndGlyphs">verduurzamen</text>
<text x="1924.2" y="367.4" font-size="31.5" textLength="82.2" lengthAdjust="spacingAndGlyphs">goede</text>
<text x="1909.2" y="407.4" font-size="31.5" textLength="192.3" lengthAdjust="spacingAndGlyphs">waterkwaliteit</text>
<text x="1893.8" y="447.9" font-size="31.5" textLength="215.6" lengthAdjust="spacingAndGlyphs">(geen verzilting)</text>
<text x="2156.6" y="447.9" font-size="31.5" textLength="141.0" lengthAdjust="spacingAndGlyphs">geen extra</text>
<text x="2134.5" y="487.9" font-size="31.5" textLength="277.4" lengthAdjust="spacingAndGlyphs">wellen/kwellen door</text>
<text x="2110.7" y="528.0" font-size="31.5" textLength="143.1" lengthAdjust="spacingAndGlyphs">ruimtelijke</text>
<text x="2087.7" y="567.6" font-size="31.5" textLength="203.5" lengthAdjust="spacingAndGlyphs">ontwikkelingen</text>
<text x="2308.8" y="703.6" font-size="31.5" textLength="176.0" lengthAdjust="spacingAndGlyphs">bodemdaling</text>
<text x="2308.8" y="744.0" font-size="31.5" textLength="139.3" lengthAdjust="spacingAndGlyphs">tegengaan</text>
<text x="2523.0" y="827.2" font-size="31.5" textLength="140.1" lengthAdjust="spacingAndGlyphs">beheerder</text>
<text x="2498.9" y="867.3" font-size="31.5" textLength="199.6" lengthAdjust="spacingAndGlyphs">beeldbepalend</text>
<text x="2474.1" y="907.1" font-size="31.5" textLength="119.7" lengthAdjust="spacingAndGlyphs">agrarisch</text>
<text x="2449.3" y="946.9" font-size="31.5" textLength="134.3" lengthAdjust="spacingAndGlyphs">landschap</text>
<text x="2525.2" y="1017.3" font-size="31.5" textLength="364.2" lengthAdjust="spacingAndGlyphs">natuurinclusieve landbouw</text>
<text x="2536.9" y="1056.7" font-size="31.5" textLength="315.7" lengthAdjust="spacingAndGlyphs">(inclusief aantrekkelijke</text>
<text x="2550.0" y="1096.2" font-size="31.5" textLength="83.6" lengthAdjust="spacingAndGlyphs">erven)</text>
<text x="2569.0" y="1202.2" font-size="31.5" textLength="368.8" lengthAdjust="spacingAndGlyphs">landbouw, boerderij, erf als</text>
<text x="2577.6" y="1242.3" font-size="31.5" textLength="381.1" lengthAdjust="spacingAndGlyphs">leesbare historie/erfgoed en</text>
<text x="2587.2" y="1282.1" font-size="31.5" textLength="291.6" lengthAdjust="spacingAndGlyphs">verhaal van de polder</text>
<text x="2616.0" y="1424.9" font-size="31.5" textLength="314.9" lengthAdjust="spacingAndGlyphs">recreatief medegebruik</text>
<text x="2616.0" y="1464.6" font-size="31.5" textLength="218.9" lengthAdjust="spacingAndGlyphs">agrarisch gebied</text>
<text x="2619.0" y="1647.0" font-size="31.5" textLength="300.0" lengthAdjust="spacingAndGlyphs">zorgvuldig gebruik van</text>
<text x="2699.3" y="1686.7" font-size="31.5" textLength="295.6" lengthAdjust="spacingAndGlyphs">land, bodem en water</text>
<text x="2643.8" y="1865.9" font-size="31.5" textLength="283.6" lengthAdjust="spacingAndGlyphs">daken en schuren vol</text>
<text x="2765.0" y="1906.1" font-size="31.5" textLength="189.1" lengthAdjust="spacingAndGlyphs">zonnepanelen</text>
<text x="2641.9" y="2072.1" font-size="31.5" textLength="79.4" lengthAdjust="spacingAndGlyphs">kleine</text>
<text x="2711.5" y="2112.0" font-size="31.5" textLength="163.1" lengthAdjust="spacingAndGlyphs">windmolens</text>
<text x="2574.2" y="2236.0" font-size="31.5" textLength="228.8" lengthAdjust="spacingAndGlyphs">voedsel voor een</text>
<text x="2630.9" y="2275.5" font-size="31.5" textLength="162.3" lengthAdjust="spacingAndGlyphs">eerlijke prijs</text>
<text x="2424.8" y="2326.3" font-size="19" textLength="139.6" lengthAdjust="spacingAndGlyphs">transitieopgaven</text>
<text x="2453.4" y="2351.3" font-size="19" textLength="112.2" lengthAdjust="spacingAndGlyphs">koppelen aan</text>
<text x="2482.3" y="2376.4" font-size="19" textLength="84.1" lengthAdjust="spacingAndGlyphs">rendabele</text>
<text x="2510.9" y="2401.4" font-size="19" textLength="122.4" lengthAdjust="spacingAndGlyphs">toekomstvaste</text>
<text x="2539.4" y="2426.0" font-size="19" textLength="125.9" lengthAdjust="spacingAndGlyphs">bedrijfsvoering</text>
<text x="2350.5" y="2428.0" font-size="31.5" textLength="144.7" lengthAdjust="spacingAndGlyphs">afzetmarkt</text>
<text x="2385.7" y="2468.6" font-size="31.5" textLength="134.9" lengthAdjust="spacingAndGlyphs">regionale-</text>
<text x="2422.1" y="2508.5" font-size="31.5" textLength="142.3" lengthAdjust="spacingAndGlyphs">en wereld-</text>
<text x="2456.1" y="2548.8" font-size="31.5" textLength="132.2" lengthAdjust="spacingAndGlyphs">economie</text>
<text x="1956.2" y="2782.4" font-size="31.5" textLength="98.2" lengthAdjust="spacingAndGlyphs">innova-</text>
<text x="1970.8" y="2822.5" font-size="31.5" textLength="31.0" lengthAdjust="spacingAndGlyphs">tie</text>
<text x="1982.5" y="2861.9" font-size="31.5" textLength="100.7" lengthAdjust="spacingAndGlyphs">toepas-</text>
<text x="1997.1" y="2901.7" font-size="31.5" textLength="43.8" lengthAdjust="spacingAndGlyphs">sen</text>
<text x="2062.0" y="2741.1" font-size="31.5" textLength="128.5" lengthAdjust="spacingAndGlyphs">geschool-</text>
<text x="2080.3" y="2781.3" font-size="31.5" textLength="149.6" lengthAdjust="spacingAndGlyphs">de arbeids-</text>
<text x="2097.4" y="2820.7" font-size="31.5" textLength="114.2" lengthAdjust="spacingAndGlyphs">krachten</text>
<text x="2181.4" y="2663.7" font-size="31.5" textLength="144.2" lengthAdjust="spacingAndGlyphs">verbreding</text>
<text x="2203.3" y="2703.2" font-size="31.5" textLength="46.4" lengthAdjust="spacingAndGlyphs">van</text>
<text x="2227.0" y="2743.3" font-size="31.5" textLength="132.1" lengthAdjust="spacingAndGlyphs">landbouw</text>
<text x="2283.6" y="2569.6" font-size="31.5" textLength="139.8" lengthAdjust="spacingAndGlyphs">verdieping</text>
<text x="2318.2" y="2608.3" font-size="31.5" textLength="45.6" lengthAdjust="spacingAndGlyphs">van</text>
<text x="2353.6" y="2648.1" font-size="31.5" textLength="132.5" lengthAdjust="spacingAndGlyphs">landbouw</text>
<text x="1104.0" y="2866.2" font-size="31.5" textLength="117.3" lengthAdjust="spacingAndGlyphs">voorkom</text>
<text x="1091.3" y="2906.1" font-size="31.5" textLength="183.0" lengthAdjust="spacingAndGlyphs">versnippering</text>
<text x="1077.2" y="2946.0" font-size="31.5" textLength="81.6" lengthAdjust="spacingAndGlyphs">areaal</text>
<text x="1297.8" y="2931.9" font-size="31.5" textLength="188.6" lengthAdjust="spacingAndGlyphs">LER bij areaal-</text>
<text x="1297.8" y="2971.8" font-size="31.5" textLength="193.3" lengthAdjust="spacingAndGlyphs">verlies; 100 ha</text>
<text x="1527.7" y="2928.7" font-size="31.5" textLength="136.1" lengthAdjust="spacingAndGlyphs">zorgvuldig</text>
<text x="1527.7" y="2968.1" font-size="31.5" textLength="190.5" lengthAdjust="spacingAndGlyphs">ruimtegebruik</text>
<text x="1721.0" y="2813.7" font-size="31.5" textLength="82.6" lengthAdjust="spacingAndGlyphs">goede</text>
<text x="1728.1" y="2853.6" font-size="31.5" textLength="142.2" lengthAdjust="spacingAndGlyphs">ontsluiting</text>
<text x="1735.1" y="2894.4" font-size="31.5" textLength="183.9" lengthAdjust="spacingAndGlyphs">en onderlinge</text>
<text x="1741.2" y="2935.7" font-size="31.5" textLength="153.4" lengthAdjust="spacingAndGlyphs">bereikbaar-</text>
<text x="1747.8" y="2974.2" font-size="31.5" textLength="56.3" lengthAdjust="spacingAndGlyphs">heid</text>
<text x="1633.3" y="2803.5" font-size="24.5" textLength="31.4" lengthAdjust="spacingAndGlyphs" style="fill:#dec8e2">vs.</text>
<text x="466.8" y="2506.0" font-size="31.5" textLength="77.9" lengthAdjust="spacingAndGlyphs">lokale</text>
<text x="466.8" y="2545.9" font-size="31.5" textLength="144.5" lengthAdjust="spacingAndGlyphs">afzetmarkt</text>
<text x="792.9" y="2757.0" font-size="31.5" textLength="183.0" lengthAdjust="spacingAndGlyphs">planologische</text>
<text x="792.9" y="2796.9" font-size="31.5" textLength="128.1" lengthAdjust="spacingAndGlyphs">zekerheid</text>
<text x="40.0" y="1712.0" font-size="31.5" textLength="149.1" lengthAdjust="spacingAndGlyphs">huisvesting</text>
<text x="40.0" y="1752.4" font-size="31.5" textLength="237.1" lengthAdjust="spacingAndGlyphs">arbeidsmigranten</text>
<text x="113.8" y="1950.4" font-size="31.5" textLength="223.0" lengthAdjust="spacingAndGlyphs">zorgboerderij als</text>
<text x="113.8" y="1990.0" font-size="31.5" textLength="233.3" lengthAdjust="spacingAndGlyphs">maatschappelijke</text>
<text x="113.8" y="2029.9" font-size="31.5" textLength="92.4" lengthAdjust="spacingAndGlyphs">functie</text>
<text x="243.2" y="2234.8" font-size="31.5" textLength="155.5" lengthAdjust="spacingAndGlyphs">educatie op</text>
<text x="243.2" y="2274.4" font-size="31.5" textLength="122.0" lengthAdjust="spacingAndGlyphs">boerderij</text>
<text x="1284.6" y="1403.9" font-size="74" textLength="440.1" lengthAdjust="spacingAndGlyphs" class="b">LANDBOUW</text>
<text x="1365.3" y="1526.9" font-size="62" textLength="283.0" lengthAdjust="spacingAndGlyphs">VEETEELT</text>
<text x="1305.7" y="1632.4" font-size="62" textLength="396.5" lengthAdjust="spacingAndGlyphs">AKKERBOUW</text>
<text x="1330.1" y="1738.0" font-size="62" textLength="347.7" lengthAdjust="spacingAndGlyphs">TUINBOUW</text>
<text x="846.0" y="898.9" font-size="54" textLength="307.4" lengthAdjust="spacingAndGlyphs" class="b">VEILIGHEID</text>
<text x="535.4" y="1291.2" font-size="54" textLength="490.4" lengthAdjust="spacingAndGlyphs" class="b">MILIEUKWALITEIT</text>
<text x="551.3" y="1370.5" font-size="54" textLength="458.9" lengthAdjust="spacingAndGlyphs" class="b">EN GEZONDHEID</text>
<text x="1383.7" y="724.3" font-size="54" textLength="244.0" lengthAdjust="spacingAndGlyphs" class="b">KLIMAAT</text>
<text x="1804.9" y="817.5" font-size="54" textLength="368.8" lengthAdjust="spacingAndGlyphs" class="b">NATUURLIJKE</text>
<text x="1796.0" y="897.3" font-size="54" textLength="382.4" lengthAdjust="spacingAndGlyphs" class="b">SYSTEMEN EN</text>
<text x="1829.8" y="977.1" font-size="54" textLength="319.1" lengthAdjust="spacingAndGlyphs" class="b">PROCESSEN</text>
<text x="2091.6" y="1290.5" font-size="54" textLength="322.4" lengthAdjust="spacingAndGlyphs" class="b">NATUUR EN</text>
<text x="2085.5" y="1370.3" font-size="54" textLength="335.5" lengthAdjust="spacingAndGlyphs" class="b">LANDSCHAP</text>
<text x="665.5" y="1742.9" font-size="54" textLength="230.3" lengthAdjust="spacingAndGlyphs" class="b">WELZIJN</text>
<text x="836.3" y="2095.5" font-size="54" textLength="309.6" lengthAdjust="spacingAndGlyphs" class="b">WONEN EN</text>
<text x="737.3" y="2174.8" font-size="54" textLength="509.2" lengthAdjust="spacingAndGlyphs" class="b">WOONOMGEVING</text>
<text x="2068.6" y="1701.8" font-size="54" textLength="368.6" lengthAdjust="spacingAndGlyphs" class="b">NATUURLIJKE</text>
<text x="2039.4" y="1780.7" font-size="54" textLength="427.0" lengthAdjust="spacingAndGlyphs" class="b">HULPBRONNEN</text>
<text x="1836.5" y="2123.0" font-size="54" textLength="305.1" lengthAdjust="spacingAndGlyphs" class="b">ECONOMIE</text>
<text x="1335.0" y="2255.8" font-size="54" textLength="343.1" lengthAdjust="spacingAndGlyphs" class="b">RUIMTELIJK-</text>
<text x="1300.0" y="2335.4" font-size="54" textLength="413.1" lengthAdjust="spacingAndGlyphs" class="b">ECONOMISCHE</text>
<text x="1338.7" y="2415.0" font-size="54" textLength="335.8" lengthAdjust="spacingAndGlyphs" class="b">STRUCTUUR</text>
</svg></body></html>
